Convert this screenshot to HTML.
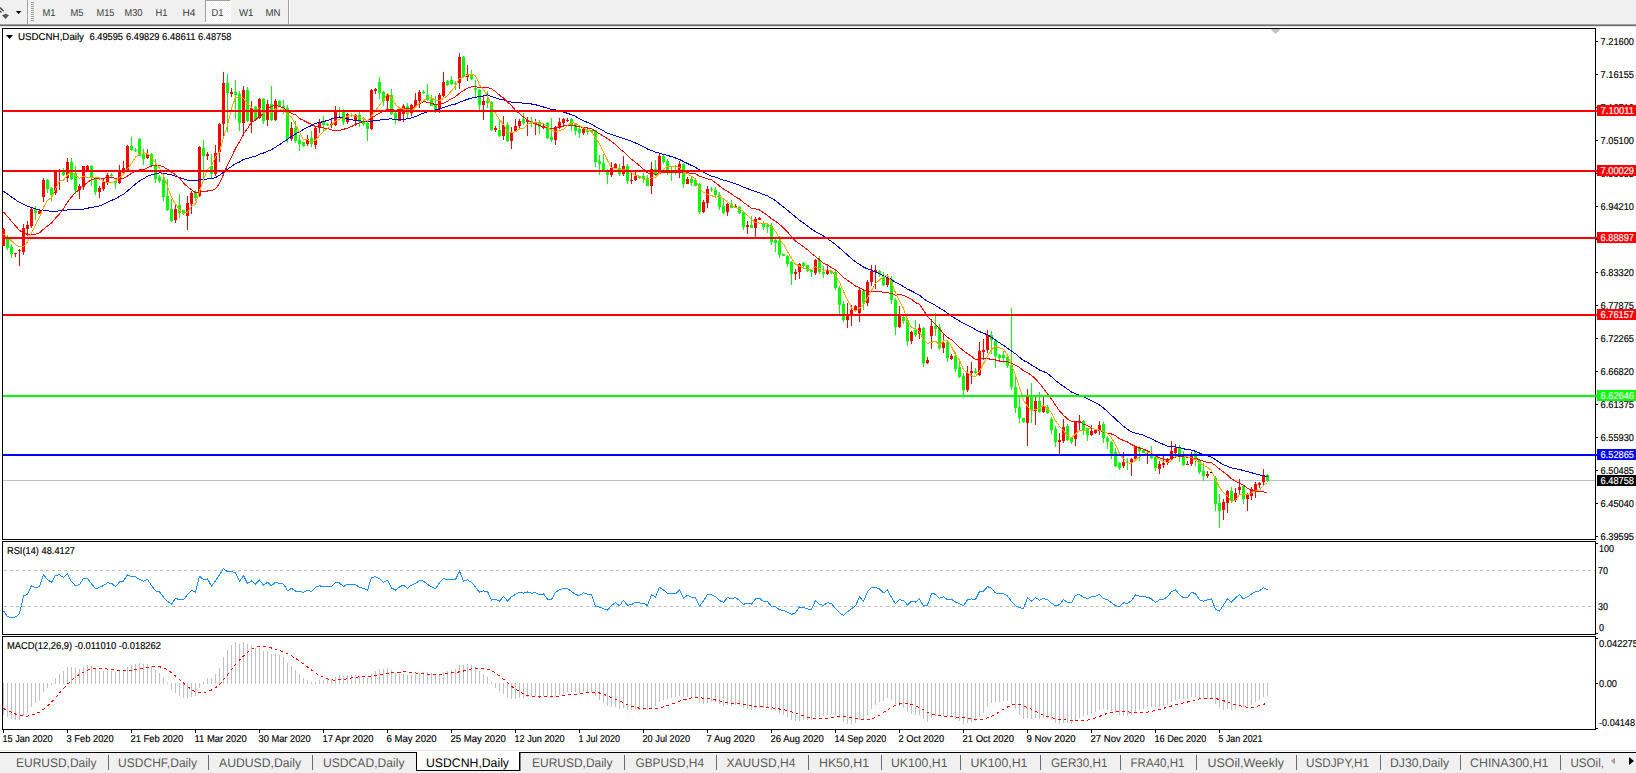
<!DOCTYPE html>
<html><head><meta charset="utf-8"><title>USDCNH,Daily</title>
<style>html,body{margin:0;padding:0;background:#fff;overflow:hidden}body{width:1636px;height:773px;font-family:"Liberation Sans",sans-serif}svg text{font-family:"Liberation Sans",sans-serif}</style>
</head><body><svg width="1636" height="773" viewBox="0 0 1636 773" font-family="Liberation Sans, sans-serif" text-rendering="geometricPrecision" style="display:block"><rect x="0" y="0" width="1636" height="773" fill="#ffffff"/>
<rect x="0" y="0" width="1636" height="24" fill="#f0f0f0"/>
<rect x="0" y="24" width="1636" height="1" fill="#a0a0a0"/>
<rect x="0" y="25" width="1636" height="1" fill="#696969"/>
<rect x="0" y="26" width="1636" height="1" fill="#e3e3e3"/>
<path d="M0 7.6 L3.6 11 M0 11 L1.5 12.5" stroke="#4a4a4a" stroke-width="1.5" fill="none"/>
<path d="M2 15.2 L5.5 13.8 L9 15.2 L5.5 19 Z" fill="#555"/>
<path d="M15.8 11 L21.4 11 L18.6 14.1 Z" fill="#000"/>
<rect x="27" y="0" width="1" height="24" fill="#a0a0a0"/>
<rect x="28" y="0" width="1" height="24" fill="#ffffff"/>
<rect x="31" y="2" width="3" height="1" fill="#a0a0a0"/>
<rect x="31" y="4" width="3" height="1" fill="#a0a0a0"/>
<rect x="31" y="6" width="3" height="1" fill="#a0a0a0"/>
<rect x="31" y="8" width="3" height="1" fill="#a0a0a0"/>
<rect x="31" y="10" width="3" height="1" fill="#a0a0a0"/>
<rect x="31" y="12" width="3" height="1" fill="#a0a0a0"/>
<rect x="31" y="14" width="3" height="1" fill="#a0a0a0"/>
<rect x="31" y="16" width="3" height="1" fill="#a0a0a0"/>
<rect x="31" y="18" width="3" height="1" fill="#a0a0a0"/>
<rect x="31" y="20" width="3" height="1" fill="#a0a0a0"/>
<defs><pattern id="chk" width="2" height="2" patternUnits="userSpaceOnUse"><rect width="2" height="2" fill="#f0f0f0"/><rect width="1" height="1" fill="#fff"/><rect x="1" y="1" width="1" height="1" fill="#fff"/></pattern></defs>
<rect x="206" y="1" width="24" height="21" fill="url(#chk)" shape-rendering="crispEdges"/>
<rect x="205" y="0" width="25" height="1" fill="#a0a0a0"/>
<rect x="205" y="0" width="1" height="22" fill="#a0a0a0"/>
<rect x="230" y="1" width="1" height="22" fill="#ffffff"/>
<rect x="205" y="22" width="26" height="1" fill="#ffffff"/>
<rect x="288" y="0" width="1" height="24" fill="#a0a0a0"/>
<rect x="289" y="0" width="1" height="24" fill="#ffffff"/>
<text x="42.5" y="16" font-size="10" fill="#383838" text-anchor="start" textLength="13" lengthAdjust="spacingAndGlyphs" >M1</text>
<text x="70.5" y="16" font-size="10" fill="#383838" text-anchor="start" textLength="13" lengthAdjust="spacingAndGlyphs" >M5</text>
<text x="96.5" y="16" font-size="10" fill="#383838" text-anchor="start" textLength="18" lengthAdjust="spacingAndGlyphs" >M15</text>
<text x="124.5" y="16" font-size="10" fill="#383838" text-anchor="start" textLength="18" lengthAdjust="spacingAndGlyphs" >M30</text>
<text x="155.5" y="16" font-size="10" fill="#383838" text-anchor="start" textLength="12" lengthAdjust="spacingAndGlyphs" >H1</text>
<text x="182.5" y="16" font-size="10" fill="#383838" text-anchor="start" textLength="13" lengthAdjust="spacingAndGlyphs" >H4</text>
<text x="211.5" y="16" font-size="10" fill="#383838" text-anchor="start" textLength="12" lengthAdjust="spacingAndGlyphs" >D1</text>
<text x="239" y="16" font-size="10" fill="#383838" text-anchor="start" textLength="14.5" lengthAdjust="spacingAndGlyphs" >W1</text>
<text x="265.5" y="16" font-size="10" fill="#383838" text-anchor="start" textLength="15" lengthAdjust="spacingAndGlyphs" >MN</text>
<rect x="2" y="28" width="1594" height="1" fill="#000"/>
<rect x="2" y="539" width="1594" height="1" fill="#000"/>
<rect x="2" y="28" width="1" height="512" fill="#000"/>
<rect x="1595" y="28" width="1" height="512" fill="#000"/>
<rect x="2" y="541" width="1594" height="1" fill="#000"/>
<rect x="2" y="634" width="1594" height="1" fill="#000"/>
<rect x="2" y="541" width="1" height="94" fill="#000"/>
<rect x="1595" y="541" width="1" height="94" fill="#000"/>
<rect x="2" y="636" width="1594" height="1" fill="#000"/>
<rect x="2" y="729" width="1594" height="1" fill="#000"/>
<rect x="2" y="636" width="1" height="94" fill="#000"/>
<rect x="1595" y="636" width="1" height="94" fill="#000"/>
<path d="M6 35 L13 35 L9.5 39 Z" fill="#000"/>
<text x="18" y="40" font-size="10" fill="#000" stroke="#000" stroke-width="0.15" text-anchor="start" textLength="66" lengthAdjust="spacingAndGlyphs" >USDCNH,Daily</text>
<text x="89.5" y="40" font-size="10" fill="#000" stroke="#000" stroke-width="0.15" text-anchor="start" textLength="33.5" lengthAdjust="spacingAndGlyphs" >6.49595</text>
<text x="126" y="40" font-size="10" fill="#000" stroke="#000" stroke-width="0.15" text-anchor="start" textLength="33.5" lengthAdjust="spacingAndGlyphs" >6.49829</text>
<text x="162" y="40" font-size="10" fill="#000" stroke="#000" stroke-width="0.15" text-anchor="start" textLength="33.5" lengthAdjust="spacingAndGlyphs" >6.48611</text>
<text x="198" y="40" font-size="10" fill="#000" stroke="#000" stroke-width="0.15" text-anchor="start" textLength="33.5" lengthAdjust="spacingAndGlyphs" >6.48758</text>
<path d="M1270.5 29 L1280.5 29 L1275.5 34 Z" fill="#c0c0c0"/>
<rect x="1596" y="41" width="2" height="1" fill="#000"/>
<text x="1600.5" y="45" font-size="10" fill="#000" stroke="#000" stroke-width="0.15" text-anchor="start" textLength="33.5" lengthAdjust="spacingAndGlyphs" >7.21600</text>
<rect x="1596" y="74" width="2" height="1" fill="#000"/>
<text x="1600.5" y="78" font-size="10" fill="#000" stroke="#000" stroke-width="0.15" text-anchor="start" textLength="33.5" lengthAdjust="spacingAndGlyphs" >7.16155</text>
<rect x="1596" y="107" width="2" height="1" fill="#000"/>
<text x="1600.5" y="111" font-size="10" fill="#000" stroke="#000" stroke-width="0.15" text-anchor="start" textLength="33.5" lengthAdjust="spacingAndGlyphs" >7.10710</text>
<rect x="1596" y="140" width="2" height="1" fill="#000"/>
<text x="1600.5" y="144" font-size="10" fill="#000" stroke="#000" stroke-width="0.15" text-anchor="start" textLength="33.5" lengthAdjust="spacingAndGlyphs" >7.05100</text>
<rect x="1596" y="173" width="2" height="1" fill="#000"/>
<text x="1600.5" y="177" font-size="10" fill="#000" stroke="#000" stroke-width="0.15" text-anchor="start" textLength="33.5" lengthAdjust="spacingAndGlyphs" >6.99655</text>
<rect x="1596" y="206" width="2" height="1" fill="#000"/>
<text x="1600.5" y="210" font-size="10" fill="#000" stroke="#000" stroke-width="0.15" text-anchor="start" textLength="33.5" lengthAdjust="spacingAndGlyphs" >6.94210</text>
<rect x="1596" y="239" width="2" height="1" fill="#000"/>
<text x="1600.5" y="243" font-size="10" fill="#000" stroke="#000" stroke-width="0.15" text-anchor="start" textLength="33.5" lengthAdjust="spacingAndGlyphs" >6.88765</text>
<rect x="1596" y="272" width="2" height="1" fill="#000"/>
<text x="1600.5" y="276" font-size="10" fill="#000" stroke="#000" stroke-width="0.15" text-anchor="start" textLength="33.5" lengthAdjust="spacingAndGlyphs" >6.83320</text>
<rect x="1596" y="305" width="2" height="1" fill="#000"/>
<text x="1600.5" y="309" font-size="10" fill="#000" stroke="#000" stroke-width="0.15" text-anchor="start" textLength="33.5" lengthAdjust="spacingAndGlyphs" >6.77875</text>
<rect x="1596" y="338" width="2" height="1" fill="#000"/>
<text x="1600.5" y="342" font-size="10" fill="#000" stroke="#000" stroke-width="0.15" text-anchor="start" textLength="33.5" lengthAdjust="spacingAndGlyphs" >6.72265</text>
<rect x="1596" y="371" width="2" height="1" fill="#000"/>
<text x="1600.5" y="375" font-size="10" fill="#000" stroke="#000" stroke-width="0.15" text-anchor="start" textLength="33.5" lengthAdjust="spacingAndGlyphs" >6.66820</text>
<rect x="1596" y="404" width="2" height="1" fill="#000"/>
<text x="1600.5" y="408" font-size="10" fill="#000" stroke="#000" stroke-width="0.15" text-anchor="start" textLength="33.5" lengthAdjust="spacingAndGlyphs" >6.61375</text>
<rect x="1596" y="437" width="2" height="1" fill="#000"/>
<text x="1600.5" y="441" font-size="10" fill="#000" stroke="#000" stroke-width="0.15" text-anchor="start" textLength="33.5" lengthAdjust="spacingAndGlyphs" >6.55930</text>
<rect x="1596" y="470" width="2" height="1" fill="#000"/>
<text x="1600.5" y="474" font-size="10" fill="#000" stroke="#000" stroke-width="0.15" text-anchor="start" textLength="33.5" lengthAdjust="spacingAndGlyphs" >6.50485</text>
<rect x="1596" y="503" width="2" height="1" fill="#000"/>
<text x="1600.5" y="507" font-size="10" fill="#000" stroke="#000" stroke-width="0.15" text-anchor="start" textLength="33.5" lengthAdjust="spacingAndGlyphs" >6.45040</text>
<rect x="1596" y="536" width="2" height="1" fill="#000"/>
<text x="1600.5" y="540" font-size="10" fill="#000" stroke="#000" stroke-width="0.15" text-anchor="start" textLength="33.5" lengthAdjust="spacingAndGlyphs" >6.39595</text>
<rect x="3" y="480" width="1592" height="1" fill="#c0c0c0"/>
<g shape-rendering="crispEdges">
<rect x="3" y="228" width="1" height="18" fill="#ff0000"/>
<rect x="2" y="229" width="3" height="17" fill="#ff0000"/>
<rect x="7" y="235" width="1" height="15" fill="#00ff00"/>
<rect x="6" y="239" width="3" height="9" fill="#00ff00"/>
<rect x="11" y="244" width="1" height="14" fill="#00ff00"/>
<rect x="10" y="247" width="3" height="7" fill="#00ff00"/>
<rect x="15" y="253" width="1" height="4" fill="#ff0000"/>
<rect x="14" y="253" width="3" height="1" fill="#ff0000"/>
<rect x="19" y="249" width="1" height="17" fill="#ff0000"/>
<rect x="18" y="250" width="3" height="1" fill="#ff0000"/>
<rect x="23" y="224" width="1" height="31" fill="#ff0000"/>
<rect x="22" y="228" width="3" height="24" fill="#ff0000"/>
<rect x="27" y="221" width="1" height="15" fill="#ff0000"/>
<rect x="26" y="225" width="3" height="4" fill="#ff0000"/>
<rect x="31" y="208" width="1" height="20" fill="#ff0000"/>
<rect x="30" y="209" width="3" height="17" fill="#ff0000"/>
<rect x="35" y="206" width="1" height="14" fill="#00ff00"/>
<rect x="34" y="209" width="3" height="4" fill="#00ff00"/>
<rect x="39" y="210" width="1" height="4" fill="#ff0000"/>
<rect x="38" y="211" width="3" height="3" fill="#ff0000"/>
<rect x="43" y="178" width="1" height="24" fill="#ff0000"/>
<rect x="42" y="180" width="3" height="17" fill="#ff0000"/>
<rect x="47" y="179" width="1" height="14" fill="#00ff00"/>
<rect x="46" y="180" width="3" height="9" fill="#00ff00"/>
<rect x="51" y="187" width="1" height="14" fill="#00ff00"/>
<rect x="50" y="188" width="3" height="7" fill="#00ff00"/>
<rect x="55" y="170" width="1" height="25" fill="#ff0000"/>
<rect x="54" y="172" width="3" height="21" fill="#ff0000"/>
<rect x="59" y="169" width="1" height="21" fill="#ff0000"/>
<rect x="58" y="170" width="3" height="2" fill="#ff0000"/>
<rect x="63" y="168" width="1" height="8" fill="#00ff00"/>
<rect x="62" y="172" width="3" height="3" fill="#00ff00"/>
<rect x="67" y="158" width="1" height="24" fill="#ff0000"/>
<rect x="66" y="162" width="3" height="16" fill="#ff0000"/>
<rect x="71" y="158" width="1" height="22" fill="#00ff00"/>
<rect x="70" y="162" width="3" height="17" fill="#00ff00"/>
<rect x="75" y="166" width="1" height="28" fill="#00ff00"/>
<rect x="74" y="173" width="3" height="17" fill="#00ff00"/>
<rect x="79" y="184" width="1" height="15" fill="#ff0000"/>
<rect x="78" y="186" width="3" height="4" fill="#ff0000"/>
<rect x="83" y="166" width="1" height="24" fill="#ff0000"/>
<rect x="82" y="166" width="3" height="21" fill="#ff0000"/>
<rect x="87" y="165" width="1" height="7" fill="#ff0000"/>
<rect x="86" y="166" width="3" height="5" fill="#ff0000"/>
<rect x="91" y="165" width="1" height="21" fill="#00ff00"/>
<rect x="90" y="166" width="3" height="12" fill="#00ff00"/>
<rect x="95" y="177" width="1" height="18" fill="#00ff00"/>
<rect x="94" y="179" width="3" height="13" fill="#00ff00"/>
<rect x="99" y="186" width="1" height="12" fill="#ff0000"/>
<rect x="98" y="188" width="3" height="4" fill="#ff0000"/>
<rect x="103" y="178" width="1" height="13" fill="#ff0000"/>
<rect x="102" y="182" width="3" height="7" fill="#ff0000"/>
<rect x="107" y="173" width="1" height="12" fill="#ff0000"/>
<rect x="106" y="175" width="3" height="8" fill="#ff0000"/>
<rect x="111" y="173" width="1" height="4" fill="#00ff00"/>
<rect x="110" y="175" width="3" height="1" fill="#00ff00"/>
<rect x="115" y="180" width="1" height="9" fill="#00ff00"/>
<rect x="114" y="181" width="3" height="2" fill="#00ff00"/>
<rect x="119" y="165" width="1" height="19" fill="#ff0000"/>
<rect x="118" y="170" width="3" height="13" fill="#ff0000"/>
<rect x="123" y="161" width="1" height="14" fill="#ff0000"/>
<rect x="122" y="168" width="3" height="5" fill="#ff0000"/>
<rect x="127" y="145" width="1" height="26" fill="#ff0000"/>
<rect x="126" y="146" width="3" height="24" fill="#ff0000"/>
<rect x="131" y="137" width="1" height="14" fill="#00ff00"/>
<rect x="130" y="146" width="3" height="4" fill="#00ff00"/>
<rect x="135" y="148" width="1" height="4" fill="#00ff00"/>
<rect x="134" y="150" width="3" height="1" fill="#00ff00"/>
<rect x="139" y="138" width="1" height="18" fill="#00ff00"/>
<rect x="138" y="139" width="3" height="17" fill="#00ff00"/>
<rect x="143" y="149" width="1" height="16" fill="#00ff00"/>
<rect x="142" y="154" width="3" height="5" fill="#00ff00"/>
<rect x="147" y="149" width="1" height="10" fill="#ff0000"/>
<rect x="146" y="154" width="3" height="4" fill="#ff0000"/>
<rect x="151" y="153" width="1" height="14" fill="#00ff00"/>
<rect x="150" y="154" width="3" height="12" fill="#00ff00"/>
<rect x="155" y="159" width="1" height="24" fill="#00ff00"/>
<rect x="154" y="166" width="3" height="13" fill="#00ff00"/>
<rect x="159" y="175" width="1" height="8" fill="#00ff00"/>
<rect x="158" y="177" width="3" height="4" fill="#00ff00"/>
<rect x="163" y="177" width="1" height="24" fill="#00ff00"/>
<rect x="162" y="180" width="3" height="17" fill="#00ff00"/>
<rect x="167" y="179" width="1" height="32" fill="#00ff00"/>
<rect x="166" y="196" width="3" height="14" fill="#00ff00"/>
<rect x="171" y="199" width="1" height="23" fill="#00ff00"/>
<rect x="170" y="209" width="3" height="12" fill="#00ff00"/>
<rect x="175" y="204" width="1" height="19" fill="#ff0000"/>
<rect x="174" y="209" width="3" height="11" fill="#ff0000"/>
<rect x="179" y="194" width="1" height="24" fill="#00ff00"/>
<rect x="178" y="205" width="3" height="8" fill="#00ff00"/>
<rect x="183" y="210" width="1" height="5" fill="#00ff00"/>
<rect x="182" y="210" width="3" height="4" fill="#00ff00"/>
<rect x="187" y="196" width="1" height="34" fill="#ff0000"/>
<rect x="186" y="203" width="3" height="13" fill="#ff0000"/>
<rect x="191" y="191" width="1" height="23" fill="#ff0000"/>
<rect x="190" y="193" width="3" height="11" fill="#ff0000"/>
<rect x="195" y="190" width="1" height="11" fill="#00ff00"/>
<rect x="194" y="193" width="3" height="5" fill="#00ff00"/>
<rect x="199" y="146" width="1" height="51" fill="#ff0000"/>
<rect x="198" y="147" width="3" height="49" fill="#ff0000"/>
<rect x="203" y="140" width="1" height="38" fill="#00ff00"/>
<rect x="202" y="148" width="3" height="8" fill="#00ff00"/>
<rect x="207" y="152" width="1" height="8" fill="#ff0000"/>
<rect x="206" y="154" width="3" height="2" fill="#ff0000"/>
<rect x="211" y="154" width="1" height="24" fill="#00ff00"/>
<rect x="210" y="166" width="3" height="8" fill="#00ff00"/>
<rect x="215" y="145" width="1" height="31" fill="#ff0000"/>
<rect x="214" y="153" width="3" height="21" fill="#ff0000"/>
<rect x="219" y="123" width="1" height="39" fill="#ff0000"/>
<rect x="218" y="124" width="3" height="28" fill="#ff0000"/>
<rect x="223" y="72" width="1" height="64" fill="#ff0000"/>
<rect x="222" y="83" width="3" height="41" fill="#ff0000"/>
<rect x="227" y="74" width="1" height="58" fill="#00ff00"/>
<rect x="226" y="83" width="3" height="10" fill="#00ff00"/>
<rect x="231" y="88" width="1" height="9" fill="#ff0000"/>
<rect x="230" y="92" width="3" height="2" fill="#ff0000"/>
<rect x="235" y="80" width="1" height="39" fill="#00ff00"/>
<rect x="234" y="92" width="3" height="3" fill="#00ff00"/>
<rect x="239" y="91" width="1" height="40" fill="#00ff00"/>
<rect x="238" y="94" width="3" height="29" fill="#00ff00"/>
<rect x="243" y="86" width="1" height="50" fill="#ff0000"/>
<rect x="242" y="90" width="3" height="33" fill="#ff0000"/>
<rect x="247" y="87" width="1" height="35" fill="#00ff00"/>
<rect x="246" y="90" width="3" height="31" fill="#00ff00"/>
<rect x="251" y="101" width="1" height="32" fill="#ff0000"/>
<rect x="250" y="108" width="3" height="14" fill="#ff0000"/>
<rect x="255" y="106" width="1" height="15" fill="#00ff00"/>
<rect x="254" y="107" width="3" height="13" fill="#00ff00"/>
<rect x="259" y="98" width="1" height="21" fill="#ff0000"/>
<rect x="258" y="99" width="3" height="19" fill="#ff0000"/>
<rect x="263" y="98" width="1" height="26" fill="#00ff00"/>
<rect x="262" y="99" width="3" height="22" fill="#00ff00"/>
<rect x="267" y="100" width="1" height="26" fill="#ff0000"/>
<rect x="266" y="104" width="3" height="16" fill="#ff0000"/>
<rect x="271" y="86" width="1" height="35" fill="#00ff00"/>
<rect x="270" y="104" width="3" height="16" fill="#00ff00"/>
<rect x="275" y="99" width="1" height="22" fill="#ff0000"/>
<rect x="274" y="101" width="3" height="19" fill="#ff0000"/>
<rect x="279" y="100" width="1" height="7" fill="#00ff00"/>
<rect x="278" y="101" width="3" height="5" fill="#00ff00"/>
<rect x="283" y="100" width="1" height="14" fill="#00ff00"/>
<rect x="282" y="106" width="3" height="3" fill="#00ff00"/>
<rect x="287" y="105" width="1" height="38" fill="#00ff00"/>
<rect x="286" y="108" width="3" height="31" fill="#00ff00"/>
<rect x="291" y="122" width="1" height="19" fill="#ff0000"/>
<rect x="290" y="128" width="3" height="11" fill="#ff0000"/>
<rect x="295" y="121" width="1" height="22" fill="#00ff00"/>
<rect x="294" y="128" width="3" height="13" fill="#00ff00"/>
<rect x="299" y="135" width="1" height="16" fill="#00ff00"/>
<rect x="298" y="140" width="3" height="4" fill="#00ff00"/>
<rect x="303" y="142" width="1" height="5" fill="#00ff00"/>
<rect x="302" y="142" width="3" height="4" fill="#00ff00"/>
<rect x="307" y="135" width="1" height="11" fill="#ff0000"/>
<rect x="306" y="139" width="3" height="5" fill="#ff0000"/>
<rect x="311" y="131" width="1" height="16" fill="#00ff00"/>
<rect x="310" y="138" width="3" height="6" fill="#00ff00"/>
<rect x="315" y="127" width="1" height="22" fill="#ff0000"/>
<rect x="314" y="128" width="3" height="17" fill="#ff0000"/>
<rect x="319" y="119" width="1" height="14" fill="#ff0000"/>
<rect x="318" y="122" width="3" height="6" fill="#ff0000"/>
<rect x="323" y="116" width="1" height="15" fill="#00ff00"/>
<rect x="322" y="122" width="3" height="3" fill="#00ff00"/>
<rect x="327" y="123" width="1" height="3" fill="#00ff00"/>
<rect x="326" y="124" width="3" height="1" fill="#00ff00"/>
<rect x="331" y="119" width="1" height="9" fill="#ff0000"/>
<rect x="330" y="124" width="3" height="1" fill="#ff0000"/>
<rect x="335" y="106" width="1" height="20" fill="#ff0000"/>
<rect x="334" y="110" width="3" height="15" fill="#ff0000"/>
<rect x="339" y="107" width="1" height="9" fill="#00ff00"/>
<rect x="338" y="110" width="3" height="2" fill="#00ff00"/>
<rect x="343" y="109" width="1" height="16" fill="#00ff00"/>
<rect x="342" y="112" width="3" height="10" fill="#00ff00"/>
<rect x="347" y="113" width="1" height="11" fill="#ff0000"/>
<rect x="346" y="114" width="3" height="8" fill="#ff0000"/>
<rect x="351" y="113" width="1" height="4" fill="#00ff00"/>
<rect x="350" y="115" width="3" height="1" fill="#00ff00"/>
<rect x="355" y="114" width="1" height="12" fill="#ff0000"/>
<rect x="354" y="115" width="3" height="6" fill="#ff0000"/>
<rect x="359" y="112" width="1" height="15" fill="#00ff00"/>
<rect x="358" y="115" width="3" height="7" fill="#00ff00"/>
<rect x="363" y="117" width="1" height="9" fill="#00ff00"/>
<rect x="362" y="121" width="3" height="3" fill="#00ff00"/>
<rect x="367" y="122" width="1" height="19" fill="#00ff00"/>
<rect x="366" y="123" width="3" height="6" fill="#00ff00"/>
<rect x="371" y="89" width="1" height="41" fill="#ff0000"/>
<rect x="370" y="90" width="3" height="39" fill="#ff0000"/>
<rect x="375" y="88" width="1" height="6" fill="#ff0000"/>
<rect x="374" y="89" width="3" height="2" fill="#ff0000"/>
<rect x="379" y="77" width="1" height="22" fill="#00ff00"/>
<rect x="378" y="82" width="3" height="11" fill="#00ff00"/>
<rect x="383" y="91" width="1" height="15" fill="#00ff00"/>
<rect x="382" y="92" width="3" height="9" fill="#00ff00"/>
<rect x="387" y="94" width="1" height="16" fill="#ff0000"/>
<rect x="386" y="95" width="3" height="6" fill="#ff0000"/>
<rect x="391" y="89" width="1" height="26" fill="#00ff00"/>
<rect x="390" y="95" width="3" height="19" fill="#00ff00"/>
<rect x="395" y="112" width="1" height="12" fill="#00ff00"/>
<rect x="394" y="113" width="3" height="7" fill="#00ff00"/>
<rect x="399" y="110" width="1" height="11" fill="#ff0000"/>
<rect x="398" y="111" width="3" height="10" fill="#ff0000"/>
<rect x="403" y="104" width="1" height="18" fill="#ff0000"/>
<rect x="402" y="106" width="3" height="8" fill="#ff0000"/>
<rect x="407" y="103" width="1" height="15" fill="#00ff00"/>
<rect x="406" y="106" width="3" height="8" fill="#00ff00"/>
<rect x="411" y="104" width="1" height="12" fill="#ff0000"/>
<rect x="410" y="105" width="3" height="8" fill="#ff0000"/>
<rect x="415" y="93" width="1" height="15" fill="#ff0000"/>
<rect x="414" y="100" width="3" height="6" fill="#ff0000"/>
<rect x="419" y="90" width="1" height="18" fill="#ff0000"/>
<rect x="418" y="92" width="3" height="9" fill="#ff0000"/>
<rect x="423" y="90" width="1" height="4" fill="#00ff00"/>
<rect x="422" y="92" width="3" height="1" fill="#00ff00"/>
<rect x="427" y="84" width="1" height="17" fill="#00ff00"/>
<rect x="426" y="95" width="3" height="5" fill="#00ff00"/>
<rect x="431" y="95" width="1" height="11" fill="#00ff00"/>
<rect x="430" y="99" width="3" height="7" fill="#00ff00"/>
<rect x="435" y="96" width="1" height="17" fill="#00ff00"/>
<rect x="434" y="105" width="3" height="5" fill="#00ff00"/>
<rect x="439" y="93" width="1" height="20" fill="#ff0000"/>
<rect x="438" y="95" width="3" height="14" fill="#ff0000"/>
<rect x="443" y="72" width="1" height="25" fill="#ff0000"/>
<rect x="442" y="82" width="3" height="14" fill="#ff0000"/>
<rect x="447" y="80" width="1" height="6" fill="#00ff00"/>
<rect x="446" y="81" width="3" height="4" fill="#00ff00"/>
<rect x="451" y="76" width="1" height="9" fill="#00ff00"/>
<rect x="450" y="80" width="3" height="4" fill="#00ff00"/>
<rect x="455" y="81" width="1" height="9" fill="#00ff00"/>
<rect x="454" y="83" width="3" height="1" fill="#00ff00"/>
<rect x="459" y="53" width="1" height="36" fill="#ff0000"/>
<rect x="458" y="57" width="3" height="26" fill="#ff0000"/>
<rect x="463" y="56" width="1" height="22" fill="#00ff00"/>
<rect x="462" y="57" width="3" height="20" fill="#00ff00"/>
<rect x="467" y="65" width="1" height="16" fill="#ff0000"/>
<rect x="466" y="74" width="3" height="3" fill="#ff0000"/>
<rect x="471" y="70" width="1" height="10" fill="#00ff00"/>
<rect x="470" y="74" width="3" height="5" fill="#00ff00"/>
<rect x="475" y="80" width="1" height="17" fill="#00ff00"/>
<rect x="474" y="88" width="3" height="2" fill="#00ff00"/>
<rect x="479" y="89" width="1" height="21" fill="#00ff00"/>
<rect x="478" y="90" width="3" height="15" fill="#00ff00"/>
<rect x="483" y="95" width="1" height="25" fill="#ff0000"/>
<rect x="482" y="101" width="3" height="4" fill="#ff0000"/>
<rect x="487" y="91" width="1" height="17" fill="#00ff00"/>
<rect x="486" y="101" width="3" height="2" fill="#00ff00"/>
<rect x="491" y="101" width="1" height="30" fill="#00ff00"/>
<rect x="490" y="102" width="3" height="28" fill="#00ff00"/>
<rect x="495" y="126" width="1" height="6" fill="#ff0000"/>
<rect x="494" y="128" width="3" height="2" fill="#ff0000"/>
<rect x="499" y="120" width="1" height="17" fill="#00ff00"/>
<rect x="498" y="130" width="3" height="6" fill="#00ff00"/>
<rect x="503" y="116" width="1" height="24" fill="#ff0000"/>
<rect x="502" y="125" width="3" height="11" fill="#ff0000"/>
<rect x="507" y="122" width="1" height="20" fill="#00ff00"/>
<rect x="506" y="125" width="3" height="16" fill="#00ff00"/>
<rect x="511" y="127" width="1" height="22" fill="#ff0000"/>
<rect x="510" y="132" width="3" height="9" fill="#ff0000"/>
<rect x="515" y="119" width="1" height="13" fill="#ff0000"/>
<rect x="514" y="126" width="3" height="5" fill="#ff0000"/>
<rect x="519" y="119" width="1" height="9" fill="#ff0000"/>
<rect x="518" y="121" width="3" height="5" fill="#ff0000"/>
<rect x="523" y="113" width="1" height="12" fill="#00ff00"/>
<rect x="522" y="119" width="3" height="4" fill="#00ff00"/>
<rect x="527" y="117" width="1" height="19" fill="#ff0000"/>
<rect x="526" y="120" width="3" height="2" fill="#ff0000"/>
<rect x="531" y="117" width="1" height="10" fill="#00ff00"/>
<rect x="530" y="121" width="3" height="2" fill="#00ff00"/>
<rect x="535" y="119" width="1" height="16" fill="#ff0000"/>
<rect x="534" y="122" width="3" height="2" fill="#ff0000"/>
<rect x="539" y="120" width="1" height="14" fill="#00ff00"/>
<rect x="538" y="122" width="3" height="5" fill="#00ff00"/>
<rect x="543" y="124" width="1" height="5" fill="#ff0000"/>
<rect x="542" y="126" width="3" height="2" fill="#ff0000"/>
<rect x="547" y="122" width="1" height="17" fill="#00ff00"/>
<rect x="546" y="123" width="3" height="15" fill="#00ff00"/>
<rect x="551" y="118" width="1" height="24" fill="#00ff00"/>
<rect x="550" y="137" width="3" height="3" fill="#00ff00"/>
<rect x="555" y="126" width="1" height="19" fill="#ff0000"/>
<rect x="554" y="127" width="3" height="13" fill="#ff0000"/>
<rect x="559" y="118" width="1" height="11" fill="#ff0000"/>
<rect x="558" y="122" width="3" height="6" fill="#ff0000"/>
<rect x="563" y="118" width="1" height="8" fill="#ff0000"/>
<rect x="562" y="119" width="3" height="4" fill="#ff0000"/>
<rect x="567" y="118" width="1" height="4" fill="#ff0000"/>
<rect x="566" y="120" width="3" height="1" fill="#ff0000"/>
<rect x="571" y="118" width="1" height="13" fill="#00ff00"/>
<rect x="570" y="119" width="3" height="6" fill="#00ff00"/>
<rect x="575" y="123" width="1" height="12" fill="#00ff00"/>
<rect x="574" y="123" width="3" height="8" fill="#00ff00"/>
<rect x="579" y="126" width="1" height="12" fill="#00ff00"/>
<rect x="578" y="129" width="3" height="4" fill="#00ff00"/>
<rect x="583" y="128" width="1" height="7" fill="#ff0000"/>
<rect x="582" y="129" width="3" height="4" fill="#ff0000"/>
<rect x="587" y="129" width="1" height="6" fill="#00ff00"/>
<rect x="586" y="130" width="3" height="2" fill="#00ff00"/>
<rect x="591" y="130" width="1" height="3" fill="#00ff00"/>
<rect x="590" y="130" width="3" height="2" fill="#00ff00"/>
<rect x="595" y="130" width="1" height="37" fill="#00ff00"/>
<rect x="594" y="130" width="3" height="32" fill="#00ff00"/>
<rect x="599" y="155" width="1" height="20" fill="#00ff00"/>
<rect x="598" y="161" width="3" height="3" fill="#00ff00"/>
<rect x="603" y="154" width="1" height="17" fill="#00ff00"/>
<rect x="602" y="163" width="3" height="7" fill="#00ff00"/>
<rect x="607" y="169" width="1" height="15" fill="#00ff00"/>
<rect x="606" y="172" width="3" height="3" fill="#00ff00"/>
<rect x="611" y="162" width="1" height="15" fill="#ff0000"/>
<rect x="610" y="168" width="3" height="7" fill="#ff0000"/>
<rect x="615" y="163" width="1" height="6" fill="#ff0000"/>
<rect x="614" y="164" width="3" height="4" fill="#ff0000"/>
<rect x="619" y="164" width="1" height="12" fill="#00ff00"/>
<rect x="618" y="168" width="3" height="6" fill="#00ff00"/>
<rect x="623" y="156" width="1" height="20" fill="#ff0000"/>
<rect x="622" y="166" width="3" height="8" fill="#ff0000"/>
<rect x="627" y="164" width="1" height="20" fill="#00ff00"/>
<rect x="626" y="166" width="3" height="15" fill="#00ff00"/>
<rect x="631" y="173" width="1" height="11" fill="#ff0000"/>
<rect x="630" y="180" width="3" height="1" fill="#ff0000"/>
<rect x="635" y="172" width="1" height="9" fill="#ff0000"/>
<rect x="634" y="176" width="3" height="4" fill="#ff0000"/>
<rect x="639" y="176" width="1" height="3" fill="#00ff00"/>
<rect x="638" y="176" width="3" height="2" fill="#00ff00"/>
<rect x="643" y="173" width="1" height="10" fill="#00ff00"/>
<rect x="642" y="176" width="3" height="3" fill="#00ff00"/>
<rect x="647" y="175" width="1" height="11" fill="#00ff00"/>
<rect x="646" y="178" width="3" height="8" fill="#00ff00"/>
<rect x="651" y="162" width="1" height="32" fill="#ff0000"/>
<rect x="650" y="169" width="3" height="17" fill="#ff0000"/>
<rect x="655" y="160" width="1" height="16" fill="#00ff00"/>
<rect x="654" y="169" width="3" height="6" fill="#00ff00"/>
<rect x="659" y="154" width="1" height="20" fill="#ff0000"/>
<rect x="658" y="156" width="3" height="17" fill="#ff0000"/>
<rect x="663" y="155" width="1" height="9" fill="#00ff00"/>
<rect x="662" y="156" width="3" height="6" fill="#00ff00"/>
<rect x="667" y="159" width="1" height="16" fill="#00ff00"/>
<rect x="666" y="161" width="3" height="9" fill="#00ff00"/>
<rect x="671" y="166" width="1" height="15" fill="#00ff00"/>
<rect x="670" y="170" width="3" height="1" fill="#00ff00"/>
<rect x="675" y="167" width="1" height="8" fill="#00ff00"/>
<rect x="674" y="170" width="3" height="2" fill="#00ff00"/>
<rect x="679" y="161" width="1" height="17" fill="#ff0000"/>
<rect x="678" y="164" width="3" height="8" fill="#ff0000"/>
<rect x="683" y="163" width="1" height="25" fill="#00ff00"/>
<rect x="682" y="164" width="3" height="20" fill="#00ff00"/>
<rect x="687" y="177" width="1" height="7" fill="#ff0000"/>
<rect x="686" y="179" width="3" height="5" fill="#ff0000"/>
<rect x="691" y="177" width="1" height="9" fill="#00ff00"/>
<rect x="690" y="179" width="3" height="4" fill="#00ff00"/>
<rect x="695" y="179" width="1" height="7" fill="#00ff00"/>
<rect x="694" y="180" width="3" height="6" fill="#00ff00"/>
<rect x="699" y="183" width="1" height="31" fill="#00ff00"/>
<rect x="698" y="184" width="3" height="28" fill="#00ff00"/>
<rect x="703" y="200" width="1" height="13" fill="#ff0000"/>
<rect x="702" y="202" width="3" height="10" fill="#ff0000"/>
<rect x="707" y="186" width="1" height="22" fill="#ff0000"/>
<rect x="706" y="189" width="3" height="14" fill="#ff0000"/>
<rect x="711" y="187" width="1" height="5" fill="#00ff00"/>
<rect x="710" y="189" width="3" height="1" fill="#00ff00"/>
<rect x="715" y="187" width="1" height="11" fill="#00ff00"/>
<rect x="714" y="190" width="3" height="5" fill="#00ff00"/>
<rect x="719" y="192" width="1" height="18" fill="#00ff00"/>
<rect x="718" y="195" width="3" height="12" fill="#00ff00"/>
<rect x="723" y="198" width="1" height="16" fill="#00ff00"/>
<rect x="722" y="206" width="3" height="7" fill="#00ff00"/>
<rect x="727" y="203" width="1" height="13" fill="#ff0000"/>
<rect x="726" y="204" width="3" height="8" fill="#ff0000"/>
<rect x="731" y="200" width="1" height="8" fill="#00ff00"/>
<rect x="730" y="204" width="3" height="4" fill="#00ff00"/>
<rect x="735" y="204" width="1" height="4" fill="#ff0000"/>
<rect x="734" y="206" width="3" height="2" fill="#ff0000"/>
<rect x="739" y="206" width="1" height="8" fill="#00ff00"/>
<rect x="738" y="207" width="3" height="6" fill="#00ff00"/>
<rect x="743" y="211" width="1" height="19" fill="#00ff00"/>
<rect x="742" y="212" width="3" height="15" fill="#00ff00"/>
<rect x="747" y="221" width="1" height="13" fill="#ff0000"/>
<rect x="746" y="225" width="3" height="2" fill="#ff0000"/>
<rect x="751" y="216" width="1" height="12" fill="#00ff00"/>
<rect x="750" y="225" width="3" height="3" fill="#00ff00"/>
<rect x="755" y="217" width="1" height="20" fill="#ff0000"/>
<rect x="754" y="219" width="3" height="9" fill="#ff0000"/>
<rect x="759" y="217" width="1" height="3" fill="#ff0000"/>
<rect x="758" y="218" width="3" height="2" fill="#ff0000"/>
<rect x="763" y="221" width="1" height="9" fill="#00ff00"/>
<rect x="762" y="223" width="3" height="4" fill="#00ff00"/>
<rect x="767" y="223" width="1" height="10" fill="#00ff00"/>
<rect x="766" y="225" width="3" height="2" fill="#00ff00"/>
<rect x="771" y="223" width="1" height="22" fill="#00ff00"/>
<rect x="770" y="226" width="3" height="16" fill="#00ff00"/>
<rect x="775" y="239" width="1" height="13" fill="#00ff00"/>
<rect x="774" y="240" width="3" height="3" fill="#00ff00"/>
<rect x="779" y="236" width="1" height="22" fill="#00ff00"/>
<rect x="778" y="241" width="3" height="14" fill="#00ff00"/>
<rect x="783" y="254" width="1" height="2" fill="#00ff00"/>
<rect x="782" y="254" width="3" height="2" fill="#00ff00"/>
<rect x="787" y="255" width="1" height="12" fill="#00ff00"/>
<rect x="786" y="256" width="3" height="8" fill="#00ff00"/>
<rect x="791" y="261" width="1" height="24" fill="#00ff00"/>
<rect x="790" y="262" width="3" height="12" fill="#00ff00"/>
<rect x="795" y="269" width="1" height="11" fill="#ff0000"/>
<rect x="794" y="272" width="3" height="2" fill="#ff0000"/>
<rect x="799" y="263" width="1" height="16" fill="#ff0000"/>
<rect x="798" y="264" width="3" height="8" fill="#ff0000"/>
<rect x="803" y="262" width="1" height="6" fill="#00ff00"/>
<rect x="802" y="263" width="3" height="3" fill="#00ff00"/>
<rect x="807" y="265" width="1" height="7" fill="#00ff00"/>
<rect x="806" y="265" width="3" height="6" fill="#00ff00"/>
<rect x="811" y="269" width="1" height="8" fill="#00ff00"/>
<rect x="810" y="270" width="3" height="2" fill="#00ff00"/>
<rect x="815" y="259" width="1" height="16" fill="#ff0000"/>
<rect x="814" y="260" width="3" height="13" fill="#ff0000"/>
<rect x="819" y="256" width="1" height="18" fill="#00ff00"/>
<rect x="818" y="260" width="3" height="12" fill="#00ff00"/>
<rect x="823" y="266" width="1" height="12" fill="#00ff00"/>
<rect x="822" y="272" width="3" height="2" fill="#00ff00"/>
<rect x="827" y="264" width="1" height="11" fill="#ff0000"/>
<rect x="826" y="271" width="3" height="3" fill="#ff0000"/>
<rect x="831" y="270" width="1" height="4" fill="#00ff00"/>
<rect x="830" y="271" width="3" height="2" fill="#00ff00"/>
<rect x="835" y="271" width="1" height="19" fill="#00ff00"/>
<rect x="834" y="272" width="3" height="16" fill="#00ff00"/>
<rect x="839" y="286" width="1" height="28" fill="#00ff00"/>
<rect x="838" y="288" width="3" height="17" fill="#00ff00"/>
<rect x="843" y="301" width="1" height="21" fill="#00ff00"/>
<rect x="842" y="304" width="3" height="16" fill="#00ff00"/>
<rect x="847" y="303" width="1" height="25" fill="#ff0000"/>
<rect x="846" y="315" width="3" height="5" fill="#ff0000"/>
<rect x="851" y="305" width="1" height="21" fill="#ff0000"/>
<rect x="850" y="310" width="3" height="5" fill="#ff0000"/>
<rect x="855" y="305" width="1" height="6" fill="#ff0000"/>
<rect x="854" y="306" width="3" height="4" fill="#ff0000"/>
<rect x="859" y="288" width="1" height="34" fill="#ff0000"/>
<rect x="858" y="290" width="3" height="23" fill="#ff0000"/>
<rect x="863" y="289" width="1" height="21" fill="#00ff00"/>
<rect x="862" y="291" width="3" height="12" fill="#00ff00"/>
<rect x="867" y="280" width="1" height="26" fill="#ff0000"/>
<rect x="866" y="282" width="3" height="21" fill="#ff0000"/>
<rect x="871" y="265" width="1" height="21" fill="#ff0000"/>
<rect x="870" y="271" width="3" height="11" fill="#ff0000"/>
<rect x="875" y="265" width="1" height="24" fill="#ff0000"/>
<rect x="874" y="270" width="3" height="2" fill="#ff0000"/>
<rect x="879" y="270" width="1" height="7" fill="#00ff00"/>
<rect x="878" y="271" width="3" height="3" fill="#00ff00"/>
<rect x="883" y="272" width="1" height="14" fill="#00ff00"/>
<rect x="882" y="276" width="3" height="9" fill="#00ff00"/>
<rect x="887" y="274" width="1" height="13" fill="#ff0000"/>
<rect x="886" y="278" width="3" height="7" fill="#ff0000"/>
<rect x="891" y="276" width="1" height="28" fill="#00ff00"/>
<rect x="890" y="279" width="3" height="21" fill="#00ff00"/>
<rect x="895" y="298" width="1" height="37" fill="#00ff00"/>
<rect x="894" y="300" width="3" height="27" fill="#00ff00"/>
<rect x="899" y="306" width="1" height="22" fill="#ff0000"/>
<rect x="898" y="316" width="3" height="11" fill="#ff0000"/>
<rect x="903" y="316" width="1" height="8" fill="#00ff00"/>
<rect x="902" y="317" width="3" height="4" fill="#00ff00"/>
<rect x="907" y="318" width="1" height="28" fill="#00ff00"/>
<rect x="906" y="320" width="3" height="21" fill="#00ff00"/>
<rect x="911" y="331" width="1" height="13" fill="#ff0000"/>
<rect x="910" y="332" width="3" height="9" fill="#ff0000"/>
<rect x="915" y="320" width="1" height="17" fill="#00ff00"/>
<rect x="914" y="330" width="3" height="5" fill="#00ff00"/>
<rect x="919" y="324" width="1" height="15" fill="#ff0000"/>
<rect x="918" y="328" width="3" height="6" fill="#ff0000"/>
<rect x="923" y="327" width="1" height="40" fill="#00ff00"/>
<rect x="922" y="328" width="3" height="35" fill="#00ff00"/>
<rect x="927" y="357" width="1" height="7" fill="#ff0000"/>
<rect x="926" y="360" width="3" height="3" fill="#ff0000"/>
<rect x="931" y="319" width="1" height="30" fill="#ff0000"/>
<rect x="930" y="326" width="3" height="10" fill="#ff0000"/>
<rect x="935" y="313" width="1" height="23" fill="#00ff00"/>
<rect x="934" y="326" width="3" height="3" fill="#00ff00"/>
<rect x="939" y="324" width="1" height="26" fill="#00ff00"/>
<rect x="938" y="327" width="3" height="21" fill="#00ff00"/>
<rect x="943" y="333" width="1" height="20" fill="#ff0000"/>
<rect x="942" y="343" width="3" height="5" fill="#ff0000"/>
<rect x="947" y="340" width="1" height="22" fill="#00ff00"/>
<rect x="946" y="342" width="3" height="16" fill="#00ff00"/>
<rect x="951" y="354" width="1" height="6" fill="#ff0000"/>
<rect x="950" y="356" width="3" height="3" fill="#ff0000"/>
<rect x="955" y="352" width="1" height="20" fill="#00ff00"/>
<rect x="954" y="356" width="3" height="13" fill="#00ff00"/>
<rect x="959" y="362" width="1" height="16" fill="#00ff00"/>
<rect x="958" y="367" width="3" height="10" fill="#00ff00"/>
<rect x="963" y="373" width="1" height="25" fill="#00ff00"/>
<rect x="962" y="376" width="3" height="14" fill="#00ff00"/>
<rect x="967" y="366" width="1" height="26" fill="#ff0000"/>
<rect x="966" y="373" width="3" height="17" fill="#ff0000"/>
<rect x="971" y="362" width="1" height="22" fill="#ff0000"/>
<rect x="970" y="371" width="3" height="2" fill="#ff0000"/>
<rect x="975" y="368" width="1" height="6" fill="#00ff00"/>
<rect x="974" y="371" width="3" height="2" fill="#00ff00"/>
<rect x="979" y="342" width="1" height="34" fill="#ff0000"/>
<rect x="978" y="351" width="3" height="24" fill="#ff0000"/>
<rect x="983" y="339" width="1" height="21" fill="#ff0000"/>
<rect x="982" y="350" width="3" height="2" fill="#ff0000"/>
<rect x="987" y="330" width="1" height="23" fill="#ff0000"/>
<rect x="986" y="335" width="3" height="15" fill="#ff0000"/>
<rect x="991" y="331" width="1" height="23" fill="#00ff00"/>
<rect x="990" y="335" width="3" height="5" fill="#00ff00"/>
<rect x="995" y="340" width="1" height="28" fill="#00ff00"/>
<rect x="994" y="341" width="3" height="15" fill="#00ff00"/>
<rect x="999" y="354" width="1" height="6" fill="#00ff00"/>
<rect x="998" y="355" width="3" height="3" fill="#00ff00"/>
<rect x="1003" y="351" width="1" height="12" fill="#00ff00"/>
<rect x="1002" y="355" width="3" height="3" fill="#00ff00"/>
<rect x="1007" y="356" width="1" height="12" fill="#00ff00"/>
<rect x="1006" y="357" width="3" height="9" fill="#00ff00"/>
<rect x="1011" y="308" width="1" height="82" fill="#00ff00"/>
<rect x="1010" y="365" width="3" height="22" fill="#00ff00"/>
<rect x="1015" y="376" width="1" height="37" fill="#00ff00"/>
<rect x="1014" y="387" width="3" height="21" fill="#00ff00"/>
<rect x="1019" y="396" width="1" height="27" fill="#00ff00"/>
<rect x="1018" y="407" width="3" height="11" fill="#00ff00"/>
<rect x="1023" y="418" width="1" height="5" fill="#00ff00"/>
<rect x="1022" y="418" width="3" height="4" fill="#00ff00"/>
<rect x="1027" y="389" width="1" height="57" fill="#ff0000"/>
<rect x="1026" y="396" width="3" height="27" fill="#ff0000"/>
<rect x="1031" y="383" width="1" height="40" fill="#00ff00"/>
<rect x="1030" y="397" width="3" height="14" fill="#00ff00"/>
<rect x="1035" y="397" width="1" height="28" fill="#ff0000"/>
<rect x="1034" y="401" width="3" height="10" fill="#ff0000"/>
<rect x="1039" y="392" width="1" height="21" fill="#00ff00"/>
<rect x="1038" y="401" width="3" height="11" fill="#00ff00"/>
<rect x="1043" y="397" width="1" height="16" fill="#ff0000"/>
<rect x="1042" y="407" width="3" height="5" fill="#ff0000"/>
<rect x="1047" y="405" width="1" height="9" fill="#00ff00"/>
<rect x="1046" y="407" width="3" height="6" fill="#00ff00"/>
<rect x="1051" y="417" width="1" height="17" fill="#00ff00"/>
<rect x="1050" y="419" width="3" height="11" fill="#00ff00"/>
<rect x="1055" y="426" width="1" height="21" fill="#00ff00"/>
<rect x="1054" y="429" width="3" height="13" fill="#00ff00"/>
<rect x="1059" y="433" width="1" height="21" fill="#ff0000"/>
<rect x="1058" y="440" width="3" height="2" fill="#ff0000"/>
<rect x="1063" y="419" width="1" height="24" fill="#ff0000"/>
<rect x="1062" y="427" width="3" height="14" fill="#ff0000"/>
<rect x="1067" y="424" width="1" height="17" fill="#00ff00"/>
<rect x="1066" y="426" width="3" height="14" fill="#00ff00"/>
<rect x="1071" y="437" width="1" height="7" fill="#00ff00"/>
<rect x="1070" y="438" width="3" height="4" fill="#00ff00"/>
<rect x="1075" y="421" width="1" height="25" fill="#ff0000"/>
<rect x="1074" y="422" width="3" height="17" fill="#ff0000"/>
<rect x="1079" y="415" width="1" height="16" fill="#ff0000"/>
<rect x="1078" y="421" width="3" height="2" fill="#ff0000"/>
<rect x="1083" y="420" width="1" height="15" fill="#00ff00"/>
<rect x="1082" y="421" width="3" height="9" fill="#00ff00"/>
<rect x="1087" y="428" width="1" height="13" fill="#00ff00"/>
<rect x="1086" y="428" width="3" height="7" fill="#00ff00"/>
<rect x="1091" y="425" width="1" height="11" fill="#ff0000"/>
<rect x="1090" y="431" width="3" height="4" fill="#ff0000"/>
<rect x="1095" y="429" width="1" height="5" fill="#ff0000"/>
<rect x="1094" y="430" width="3" height="3" fill="#ff0000"/>
<rect x="1099" y="421" width="1" height="14" fill="#ff0000"/>
<rect x="1098" y="425" width="3" height="5" fill="#ff0000"/>
<rect x="1103" y="422" width="1" height="21" fill="#00ff00"/>
<rect x="1102" y="424" width="3" height="14" fill="#00ff00"/>
<rect x="1107" y="436" width="1" height="13" fill="#00ff00"/>
<rect x="1106" y="438" width="3" height="4" fill="#00ff00"/>
<rect x="1111" y="441" width="1" height="18" fill="#00ff00"/>
<rect x="1110" y="442" width="3" height="12" fill="#00ff00"/>
<rect x="1115" y="448" width="1" height="19" fill="#00ff00"/>
<rect x="1114" y="452" width="3" height="14" fill="#00ff00"/>
<rect x="1119" y="462" width="1" height="8" fill="#00ff00"/>
<rect x="1118" y="463" width="3" height="5" fill="#00ff00"/>
<rect x="1123" y="452" width="1" height="16" fill="#ff0000"/>
<rect x="1122" y="462" width="3" height="4" fill="#ff0000"/>
<rect x="1127" y="458" width="1" height="12" fill="#00ff00"/>
<rect x="1126" y="462" width="3" height="1" fill="#00ff00"/>
<rect x="1131" y="458" width="1" height="18" fill="#ff0000"/>
<rect x="1130" y="459" width="3" height="3" fill="#ff0000"/>
<rect x="1135" y="446" width="1" height="14" fill="#ff0000"/>
<rect x="1134" y="447" width="3" height="12" fill="#ff0000"/>
<rect x="1139" y="446" width="1" height="15" fill="#00ff00"/>
<rect x="1138" y="447" width="3" height="4" fill="#00ff00"/>
<rect x="1143" y="450" width="1" height="3" fill="#00ff00"/>
<rect x="1142" y="450" width="3" height="3" fill="#00ff00"/>
<rect x="1147" y="451" width="1" height="13" fill="#ff0000"/>
<rect x="1146" y="454" width="3" height="2" fill="#ff0000"/>
<rect x="1151" y="446" width="1" height="13" fill="#00ff00"/>
<rect x="1150" y="456" width="3" height="2" fill="#00ff00"/>
<rect x="1155" y="456" width="1" height="15" fill="#00ff00"/>
<rect x="1154" y="457" width="3" height="11" fill="#00ff00"/>
<rect x="1159" y="461" width="1" height="13" fill="#ff0000"/>
<rect x="1158" y="464" width="3" height="5" fill="#ff0000"/>
<rect x="1163" y="456" width="1" height="12" fill="#ff0000"/>
<rect x="1162" y="463" width="3" height="2" fill="#ff0000"/>
<rect x="1167" y="458" width="1" height="7" fill="#ff0000"/>
<rect x="1166" y="459" width="3" height="4" fill="#ff0000"/>
<rect x="1171" y="441" width="1" height="19" fill="#ff0000"/>
<rect x="1170" y="451" width="3" height="8" fill="#ff0000"/>
<rect x="1175" y="444" width="1" height="10" fill="#ff0000"/>
<rect x="1174" y="448" width="3" height="5" fill="#ff0000"/>
<rect x="1179" y="445" width="1" height="17" fill="#00ff00"/>
<rect x="1178" y="447" width="3" height="10" fill="#00ff00"/>
<rect x="1183" y="451" width="1" height="15" fill="#00ff00"/>
<rect x="1182" y="456" width="3" height="9" fill="#00ff00"/>
<rect x="1187" y="461" width="1" height="4" fill="#ff0000"/>
<rect x="1186" y="464" width="3" height="1" fill="#ff0000"/>
<rect x="1191" y="452" width="1" height="14" fill="#ff0000"/>
<rect x="1190" y="456" width="3" height="8" fill="#ff0000"/>
<rect x="1195" y="452" width="1" height="14" fill="#00ff00"/>
<rect x="1194" y="453" width="3" height="5" fill="#00ff00"/>
<rect x="1199" y="459" width="1" height="15" fill="#00ff00"/>
<rect x="1198" y="460" width="3" height="12" fill="#00ff00"/>
<rect x="1203" y="463" width="1" height="18" fill="#00ff00"/>
<rect x="1202" y="471" width="3" height="5" fill="#00ff00"/>
<rect x="1207" y="471" width="1" height="7" fill="#ff0000"/>
<rect x="1206" y="474" width="3" height="2" fill="#ff0000"/>
<rect x="1210" y="472" width="2" height="1" fill="#000000"/>
<rect x="1215" y="476" width="1" height="35" fill="#00ff00"/>
<rect x="1214" y="478" width="3" height="26" fill="#00ff00"/>
<rect x="1219" y="494" width="1" height="34" fill="#00ff00"/>
<rect x="1218" y="503" width="3" height="8" fill="#00ff00"/>
<rect x="1223" y="499" width="1" height="21" fill="#ff0000"/>
<rect x="1222" y="502" width="3" height="8" fill="#ff0000"/>
<rect x="1227" y="490" width="1" height="23" fill="#ff0000"/>
<rect x="1226" y="491" width="3" height="12" fill="#ff0000"/>
<rect x="1231" y="487" width="1" height="16" fill="#00ff00"/>
<rect x="1230" y="491" width="3" height="10" fill="#00ff00"/>
<rect x="1235" y="488" width="1" height="14" fill="#ff0000"/>
<rect x="1234" y="493" width="3" height="7" fill="#ff0000"/>
<rect x="1239" y="479" width="1" height="15" fill="#ff0000"/>
<rect x="1238" y="487" width="3" height="3" fill="#ff0000"/>
<rect x="1243" y="486" width="1" height="18" fill="#00ff00"/>
<rect x="1242" y="486" width="3" height="13" fill="#00ff00"/>
<rect x="1247" y="493" width="1" height="18" fill="#ff0000"/>
<rect x="1246" y="495" width="3" height="4" fill="#ff0000"/>
<rect x="1251" y="487" width="1" height="13" fill="#ff0000"/>
<rect x="1250" y="489" width="3" height="7" fill="#ff0000"/>
<rect x="1255" y="482" width="1" height="16" fill="#ff0000"/>
<rect x="1254" y="484" width="3" height="8" fill="#ff0000"/>
<rect x="1259" y="482" width="1" height="6" fill="#ff0000"/>
<rect x="1258" y="483" width="3" height="2" fill="#ff0000"/>
<rect x="1263" y="469" width="1" height="16" fill="#ff0000"/>
<rect x="1262" y="476" width="3" height="6" fill="#ff0000"/>
<rect x="1267" y="474" width="1" height="8" fill="#00ff00"/>
<rect x="1266" y="475" width="3" height="6" fill="#00ff00"/>
</g>
<polyline points="3.5,191.3 7.5,194.0 11.5,196.9 15.5,199.8 19.5,202.4 23.5,204.3 27.5,206.2 31.5,207.4 35.5,208.8 39.5,210.0 43.5,210.3 47.5,210.7 51.5,211.4 55.5,211.2 59.5,210.9 63.5,210.7 67.5,210.0 71.5,209.8 75.5,210.0 79.5,209.9 83.5,209.2 87.5,208.2 91.5,207.4 95.5,206.8 99.5,205.8 103.5,204.3 107.5,202.4 111.5,200.4 115.5,198.7 119.5,196.4 123.5,194.4 127.5,191.0 131.5,187.6 135.5,184.1 139.5,181.0 143.5,178.7 147.5,176.3 151.5,174.9 155.5,173.8 159.5,172.8 163.5,173.4 167.5,174.1 171.5,174.9 175.5,176.2 179.5,177.6 183.5,178.9 187.5,180.3 191.5,180.8 195.5,181.0 199.5,179.7 203.5,179.4 207.5,179.0 211.5,178.8 215.5,177.5 219.5,175.4 223.5,172.1 227.5,169.3 231.5,166.5 235.5,163.6 239.5,162.0 243.5,159.4 247.5,158.6 251.5,157.1 255.5,156.1 259.5,154.2 263.5,153.0 267.5,151.3 271.5,149.7 275.5,147.1 279.5,144.7 283.5,141.7 287.5,139.4 291.5,136.3 295.5,134.0 299.5,131.7 303.5,129.4 307.5,127.3 311.5,125.6 315.5,123.3 319.5,122.5 323.5,121.5 327.5,120.5 331.5,118.8 335.5,117.4 339.5,117.0 343.5,118.3 347.5,119.0 351.5,119.8 355.5,120.5 359.5,120.5 363.5,121.6 367.5,121.9 371.5,121.3 375.5,120.3 379.5,120.1 383.5,119.4 387.5,119.1 391.5,118.9 395.5,119.5 399.5,119.7 403.5,119.6 407.5,118.7 411.5,117.9 415.5,116.6 419.5,114.8 423.5,113.1 427.5,111.8 431.5,110.5 435.5,109.9 439.5,109.0 443.5,107.5 447.5,106.2 451.5,104.9 455.5,104.0 459.5,102.2 463.5,100.7 467.5,99.3 471.5,98.1 475.5,97.3 479.5,96.7 483.5,95.9 487.5,95.0 491.5,96.4 495.5,97.7 499.5,99.1 503.5,99.9 507.5,101.5 511.5,102.1 515.5,102.3 519.5,102.6 523.5,103.2 527.5,103.4 531.5,104.0 535.5,104.7 539.5,105.9 543.5,107.0 547.5,108.3 551.5,109.4 555.5,110.0 559.5,110.9 563.5,112.1 567.5,113.3 571.5,114.7 575.5,116.3 579.5,118.8 583.5,120.6 587.5,122.5 591.5,124.3 595.5,126.6 599.5,128.6 603.5,130.9 607.5,133.3 611.5,134.6 615.5,135.8 619.5,137.1 623.5,138.4 627.5,139.7 631.5,141.3 635.5,143.0 639.5,144.9 643.5,146.8 647.5,149.0 651.5,150.5 655.5,152.3 659.5,153.2 663.5,154.4 667.5,155.5 671.5,156.5 675.5,158.0 679.5,159.4 683.5,161.6 687.5,163.5 691.5,165.5 695.5,167.3 699.5,169.9 703.5,172.3 707.5,174.2 711.5,176.1 715.5,177.2 719.5,178.7 723.5,180.1 727.5,181.1 731.5,182.4 735.5,183.8 739.5,185.1 743.5,187.1 747.5,188.6 751.5,190.2 755.5,191.6 759.5,192.9 763.5,194.5 767.5,195.9 771.5,198.3 775.5,200.6 779.5,203.9 783.5,207.0 787.5,210.2 791.5,213.6 795.5,217.0 799.5,220.3 803.5,223.0 807.5,226.1 811.5,229.1 815.5,231.6 819.5,233.6 823.5,236.0 827.5,238.7 831.5,241.5 835.5,244.6 839.5,247.9 843.5,251.4 847.5,255.1 851.5,258.5 855.5,261.9 859.5,264.4 863.5,267.0 867.5,268.9 871.5,270.3 875.5,272.0 879.5,273.9 883.5,275.8 887.5,277.5 891.5,279.5 895.5,282.3 899.5,284.3 903.5,286.5 907.5,289.1 911.5,291.0 915.5,293.1 919.5,295.2 923.5,298.5 927.5,301.4 931.5,303.2 935.5,305.5 939.5,308.0 943.5,310.3 947.5,313.2 951.5,316.0 955.5,318.6 959.5,321.0 963.5,323.3 967.5,325.3 971.5,327.3 975.5,329.6 979.5,331.6 983.5,333.1 987.5,334.9 991.5,337.2 995.5,340.1 999.5,342.9 1003.5,345.3 1007.5,348.2 1011.5,351.1 1015.5,353.8 1019.5,357.2 1023.5,360.6 1027.5,362.4 1031.5,365.0 1035.5,367.2 1039.5,370.0 1043.5,371.5 1047.5,373.3 1051.5,376.8 1055.5,380.5 1059.5,383.6 1063.5,386.4 1067.5,389.1 1071.5,392.0 1075.5,393.8 1079.5,395.2 1083.5,396.6 1087.5,398.7 1091.5,400.7 1095.5,402.6 1099.5,405.0 1103.5,408.0 1107.5,411.5 1111.5,415.3 1115.5,419.0 1119.5,422.7 1123.5,426.2 1127.5,429.4 1131.5,431.8 1135.5,433.1 1139.5,434.2 1143.5,435.2 1147.5,437.1 1151.5,438.7 1155.5,441.0 1159.5,442.7 1163.5,444.5 1167.5,446.1 1171.5,446.8 1175.5,446.9 1179.5,447.5 1183.5,448.8 1187.5,449.6 1191.5,450.1 1195.5,451.3 1199.5,453.0 1203.5,454.5 1207.5,455.8 1211.5,457.2 1215.5,459.7 1219.5,462.5 1223.5,464.7 1227.5,466.3 1231.5,467.9 1235.5,468.8 1239.5,469.4 1243.5,470.6 1247.5,471.7 1251.5,472.7 1255.5,473.9 1259.5,474.9 1263.5,475.7 1267.5,476.6" fill="none" stroke="#0000cd" stroke-width="1" shape-rendering="crispEdges"/>
<polyline points="3.5,212.0 7.5,216.4 11.5,221.4 15.5,226.0 19.5,230.4 23.5,232.7 27.5,234.4 31.5,234.3 35.5,234.1 39.5,232.9 43.5,229.2 47.5,225.9 51.5,223.1 55.5,218.2 59.5,214.0 63.5,208.8 67.5,202.2 71.5,196.9 75.5,192.6 79.5,189.6 83.5,185.4 87.5,182.4 91.5,179.8 95.5,178.5 99.5,179.1 103.5,178.6 107.5,177.2 111.5,177.4 115.5,178.4 119.5,178.1 123.5,178.5 127.5,176.1 131.5,173.3 135.5,170.8 139.5,170.0 143.5,169.5 147.5,167.8 151.5,166.0 155.5,165.4 159.5,165.3 163.5,166.9 167.5,169.3 171.5,172.0 175.5,174.8 179.5,178.0 183.5,182.9 187.5,186.7 191.5,189.7 195.5,192.7 199.5,191.8 203.5,192.0 207.5,191.0 211.5,190.7 215.5,188.7 219.5,183.5 223.5,174.4 227.5,165.2 231.5,156.8 235.5,148.4 239.5,141.8 243.5,133.8 247.5,128.6 251.5,122.2 255.5,120.2 259.5,116.2 263.5,113.8 267.5,108.8 271.5,106.5 275.5,104.9 279.5,106.5 283.5,107.7 287.5,111.1 291.5,113.4 295.5,114.8 299.5,118.6 303.5,120.4 307.5,122.6 311.5,124.4 315.5,126.5 319.5,126.5 323.5,128.0 327.5,128.4 331.5,130.0 335.5,130.3 339.5,130.5 343.5,129.3 347.5,128.2 351.5,126.5 355.5,124.4 359.5,122.7 363.5,121.7 367.5,120.6 371.5,117.9 375.5,115.5 379.5,113.2 383.5,111.5 387.5,109.4 391.5,109.7 395.5,110.2 399.5,109.5 403.5,108.9 407.5,108.7 411.5,108.0 415.5,106.4 419.5,104.1 423.5,101.5 427.5,102.2 431.5,103.4 435.5,104.6 439.5,104.2 443.5,103.3 447.5,101.2 451.5,98.6 455.5,96.7 459.5,93.2 463.5,90.6 467.5,88.3 471.5,86.9 475.5,86.7 479.5,87.6 483.5,87.7 487.5,87.5 491.5,88.9 495.5,91.3 499.5,95.2 503.5,98.0 507.5,102.1 511.5,105.5 515.5,110.4 519.5,113.6 523.5,117.1 527.5,120.1 531.5,122.4 535.5,123.7 539.5,125.5 543.5,127.1 547.5,127.7 551.5,128.6 555.5,127.9 559.5,127.7 563.5,126.1 567.5,125.3 571.5,125.2 575.5,126.0 579.5,126.7 583.5,127.4 587.5,128.0 591.5,128.7 595.5,131.2 599.5,133.9 603.5,136.1 607.5,138.6 611.5,141.6 615.5,144.6 619.5,148.5 623.5,151.8 627.5,155.8 631.5,159.3 635.5,162.3 639.5,165.8 643.5,169.2 647.5,173.0 651.5,173.5 655.5,174.3 659.5,173.3 663.5,172.4 667.5,172.5 671.5,173.0 675.5,172.8 679.5,172.7 683.5,172.9 687.5,172.8 691.5,173.4 695.5,173.9 699.5,176.2 703.5,177.4 707.5,178.8 711.5,179.8 715.5,182.7 719.5,185.9 723.5,189.0 727.5,191.3 731.5,193.9 735.5,196.9 739.5,199.0 743.5,202.4 747.5,205.3 751.5,208.3 755.5,208.9 759.5,210.0 763.5,212.7 767.5,215.4 771.5,218.8 775.5,221.3 779.5,224.3 783.5,228.0 787.5,232.0 791.5,236.9 795.5,241.1 799.5,243.8 803.5,246.7 807.5,249.8 811.5,253.6 815.5,256.6 819.5,259.9 823.5,263.3 827.5,265.3 831.5,267.5 835.5,269.9 839.5,273.4 843.5,277.4 847.5,280.3 851.5,283.0 855.5,286.0 859.5,287.7 863.5,290.0 867.5,290.7 871.5,291.4 875.5,291.2 879.5,291.3 883.5,292.3 887.5,292.7 891.5,293.5 895.5,295.1 899.5,294.8 903.5,295.2 907.5,297.5 911.5,299.3 915.5,302.6 919.5,304.3 923.5,310.1 927.5,316.5 931.5,320.4 935.5,324.3 939.5,328.8 943.5,333.5 947.5,337.5 951.5,339.6 955.5,343.4 959.5,347.3 963.5,350.8 967.5,353.7 971.5,356.3 975.5,359.5 979.5,358.7 983.5,357.9 987.5,358.6 991.5,359.4 995.5,360.0 999.5,361.0 1003.5,361.0 1007.5,361.8 1011.5,363.1 1015.5,365.3 1019.5,367.3 1023.5,370.9 1027.5,372.7 1031.5,375.3 1035.5,378.9 1039.5,383.4 1043.5,388.5 1047.5,393.7 1051.5,399.0 1055.5,405.1 1059.5,410.9 1063.5,415.3 1067.5,419.0 1071.5,421.5 1075.5,421.7 1079.5,421.6 1083.5,424.1 1087.5,425.8 1091.5,427.9 1095.5,429.2 1099.5,430.5 1103.5,432.2 1107.5,433.1 1111.5,434.0 1115.5,435.8 1119.5,438.8 1123.5,440.4 1127.5,441.9 1131.5,444.6 1135.5,446.4 1139.5,448.0 1143.5,449.2 1147.5,450.8 1151.5,452.9 1155.5,455.9 1159.5,457.8 1163.5,459.2 1167.5,459.6 1171.5,458.5 1175.5,457.1 1179.5,456.7 1183.5,456.8 1187.5,457.2 1191.5,457.8 1195.5,458.3 1199.5,459.7 1203.5,461.2 1207.5,462.3 1211.5,462.7 1215.5,465.6 1219.5,469.0 1223.5,472.1 1227.5,475.0 1231.5,478.8 1235.5,481.3 1239.5,482.9 1243.5,485.4 1247.5,488.2 1251.5,490.4 1255.5,491.3 1259.5,491.8 1263.5,491.9 1267.5,492.5" fill="none" stroke="#ff0000" stroke-width="1" shape-rendering="crispEdges"/>
<polyline points="3.5,234.0 7.5,237.2 11.5,241.0 15.5,244.6 19.5,246.8 23.5,246.6 27.5,242.0 31.5,233.0 35.5,225.0 39.5,217.2 43.5,207.5 47.5,200.3 51.5,197.6 55.5,189.3 59.5,181.1 63.5,180.2 67.5,174.7 71.5,171.5 75.5,175.1 79.5,178.3 83.5,176.5 87.5,177.4 91.5,177.2 95.5,177.5 99.5,177.9 103.5,181.2 107.5,183.0 111.5,182.5 115.5,180.9 119.5,177.4 123.5,174.4 127.5,168.6 131.5,163.6 135.5,157.0 139.5,154.0 143.5,152.3 147.5,154.0 151.5,157.2 155.5,162.9 159.5,168.0 163.5,175.5 167.5,186.7 171.5,197.6 175.5,203.6 179.5,210.0 183.5,213.4 187.5,212.0 191.5,206.5 195.5,204.2 199.5,191.0 203.5,179.4 207.5,169.5 211.5,165.6 215.5,156.7 219.5,152.0 223.5,137.4 227.5,125.3 231.5,108.8 235.5,97.2 239.5,96.9 243.5,98.3 247.5,104.0 251.5,107.2 255.5,112.2 259.5,107.5 263.5,113.7 267.5,110.3 271.5,112.7 275.5,109.0 279.5,110.5 283.5,108.1 287.5,115.1 291.5,116.7 295.5,124.7 299.5,132.3 303.5,139.7 307.5,139.6 311.5,142.8 315.5,140.2 319.5,135.7 323.5,131.5 327.5,128.7 331.5,124.7 335.5,121.1 339.5,119.1 343.5,118.5 347.5,116.4 351.5,114.8 355.5,115.8 359.5,117.8 363.5,118.3 367.5,121.3 371.5,116.1 375.5,110.8 379.5,105.0 383.5,100.3 387.5,93.4 391.5,98.2 395.5,104.4 399.5,108.0 403.5,109.0 407.5,112.8 411.5,111.0 415.5,107.0 419.5,103.2 423.5,100.7 427.5,97.9 431.5,98.0 435.5,100.0 439.5,100.6 443.5,98.4 447.5,95.4 451.5,91.1 455.5,85.9 459.5,78.3 463.5,77.3 467.5,75.0 471.5,74.0 475.5,75.4 479.5,84.9 483.5,89.8 487.5,95.6 491.5,105.8 495.5,113.4 499.5,119.6 503.5,124.4 507.5,132.1 511.5,132.4 515.5,131.8 519.5,128.9 523.5,128.4 527.5,124.2 531.5,122.6 535.5,122.0 539.5,123.1 543.5,123.7 547.5,127.3 551.5,130.6 555.5,131.6 559.5,130.5 563.5,129.3 567.5,125.5 571.5,122.6 575.5,123.4 579.5,125.8 583.5,127.8 587.5,130.1 591.5,131.6 595.5,137.7 599.5,143.8 603.5,151.9 607.5,160.5 611.5,167.7 615.5,168.2 619.5,170.2 623.5,169.4 627.5,170.6 631.5,172.9 635.5,175.3 639.5,176.2 643.5,178.9 647.5,179.8 651.5,177.6 655.5,177.4 659.5,172.8 663.5,169.4 667.5,166.3 671.5,166.7 675.5,166.0 679.5,167.7 683.5,172.1 687.5,173.9 691.5,176.3 695.5,179.1 699.5,188.7 703.5,192.3 707.5,194.3 711.5,195.5 715.5,197.4 719.5,196.4 723.5,198.7 727.5,201.7 731.5,205.4 735.5,207.5 739.5,208.8 743.5,211.4 747.5,215.6 751.5,219.6 755.5,222.2 759.5,223.2 763.5,223.3 767.5,223.7 771.5,226.6 775.5,231.3 779.5,238.6 783.5,244.4 787.5,251.8 791.5,258.3 795.5,264.1 799.5,266.0 803.5,268.0 807.5,269.4 811.5,269.1 815.5,266.8 819.5,268.5 823.5,270.1 827.5,270.0 831.5,270.0 835.5,275.6 839.5,282.1 843.5,291.4 847.5,300.2 851.5,307.7 855.5,311.1 859.5,308.1 863.5,304.7 867.5,298.1 871.5,290.3 875.5,283.3 879.5,280.1 883.5,276.4 887.5,275.6 891.5,281.6 895.5,292.9 899.5,301.3 903.5,308.5 907.5,321.1 911.5,327.4 915.5,329.1 919.5,331.4 923.5,339.7 927.5,343.5 931.5,342.3 935.5,341.1 939.5,345.0 943.5,341.0 947.5,340.6 951.5,346.5 955.5,354.5 959.5,360.3 963.5,369.7 967.5,372.7 971.5,375.8 975.5,376.6 979.5,371.4 983.5,363.5 987.5,355.9 991.5,349.8 995.5,346.3 999.5,347.7 1003.5,349.2 1007.5,355.4 1011.5,364.8 1015.5,375.2 1019.5,387.4 1023.5,400.3 1027.5,406.3 1031.5,410.9 1035.5,409.6 1039.5,408.3 1043.5,405.3 1047.5,408.8 1051.5,412.6 1055.5,420.8 1059.5,426.4 1063.5,430.4 1067.5,435.7 1071.5,438.1 1075.5,434.0 1079.5,430.3 1083.5,430.8 1087.5,429.8 1091.5,427.7 1095.5,429.3 1099.5,430.1 1103.5,431.7 1107.5,433.3 1111.5,437.8 1115.5,444.9 1119.5,453.6 1123.5,458.4 1127.5,462.6 1131.5,463.6 1135.5,460.0 1139.5,456.6 1143.5,454.7 1147.5,452.8 1151.5,452.6 1155.5,456.7 1159.5,459.2 1163.5,461.2 1167.5,462.3 1171.5,460.7 1175.5,456.8 1179.5,455.4 1183.5,455.8 1187.5,456.8 1191.5,457.9 1195.5,460.0 1199.5,463.0 1203.5,465.2 1207.5,467.2 1211.5,470.5 1215.5,479.6 1219.5,487.5 1223.5,492.7 1227.5,496.1 1231.5,501.8 1235.5,499.6 1239.5,494.7 1243.5,494.1 1247.5,494.9 1251.5,492.5 1255.5,490.7 1259.5,490.0 1263.5,485.3 1267.5,482.5" fill="none" stroke="#ffa500" stroke-width="1" shape-rendering="crispEdges"/>
<rect x="3" y="110" width="1594" height="2" fill="#ff0000"/>
<rect x="1597" y="105" width="39" height="11" fill="#ff0000"/>
<text x="1600.5" y="114" font-size="10" fill="#fff" stroke="#fff" stroke-width="0.15" text-anchor="start" textLength="33.5" lengthAdjust="spacingAndGlyphs" >7.10011</text>
<rect x="3" y="170" width="1594" height="2" fill="#ff0000"/>
<rect x="1597" y="165" width="39" height="11" fill="#ff0000"/>
<text x="1600.5" y="174" font-size="10" fill="#fff" stroke="#fff" stroke-width="0.15" text-anchor="start" textLength="33.5" lengthAdjust="spacingAndGlyphs" >7.00029</text>
<rect x="3" y="237" width="1594" height="2" fill="#ff0000"/>
<rect x="1597" y="232" width="39" height="11" fill="#ff0000"/>
<text x="1600.5" y="241" font-size="10" fill="#fff" stroke="#fff" stroke-width="0.15" text-anchor="start" textLength="33.5" lengthAdjust="spacingAndGlyphs" >6.88897</text>
<rect x="3" y="314" width="1594" height="2" fill="#ff0000"/>
<rect x="1597" y="309" width="39" height="11" fill="#ff0000"/>
<text x="1600.5" y="318" font-size="10" fill="#fff" stroke="#fff" stroke-width="0.15" text-anchor="start" textLength="33.5" lengthAdjust="spacingAndGlyphs" >6.76157</text>
<rect x="3" y="395" width="1594" height="2" fill="#00ff00"/>
<rect x="1597" y="390" width="39" height="11" fill="#00ff00"/>
<text x="1600.5" y="399" font-size="10" fill="#fff" stroke="#fff" stroke-width="0.15" text-anchor="start" textLength="33.5" lengthAdjust="spacingAndGlyphs" >6.62646</text>
<rect x="3" y="454" width="1594" height="2" fill="#0000ff"/>
<rect x="1597" y="449" width="39" height="11" fill="#0000ff"/>
<text x="1600.5" y="458" font-size="10" fill="#fff" stroke="#fff" stroke-width="0.15" text-anchor="start" textLength="33.5" lengthAdjust="spacingAndGlyphs" >6.52865</text>
<rect x="1597" y="475" width="39" height="11" fill="#000"/>
<text x="1600.5" y="484" font-size="10" fill="#fff" stroke="#fff" stroke-width="0.15" text-anchor="start" textLength="33.5" lengthAdjust="spacingAndGlyphs" >6.48758</text>
<text x="7" y="554" font-size="10" fill="#000" stroke="#000" stroke-width="0.15" text-anchor="start" textLength="68" lengthAdjust="spacingAndGlyphs" >RSI(14) 48.4127</text>
<line x1="4" y1="570.5" x2="1595" y2="570.5" stroke="#c0c0c0" stroke-width="1" stroke-dasharray="3,3" shape-rendering="crispEdges"/>
<line x1="4" y1="606.5" x2="1595" y2="606.5" stroke="#c0c0c0" stroke-width="1" stroke-dasharray="3,3" shape-rendering="crispEdges"/>
<rect x="1596" y="543" width="2" height="1" fill="#000"/>
<rect x="1596" y="633" width="2" height="1" fill="#000"/>
<text x="1599" y="552" font-size="10" fill="#000" stroke="#000" stroke-width="0.15" text-anchor="start" textLength="15" lengthAdjust="spacingAndGlyphs" >100</text>
<text x="1598" y="574" font-size="10" fill="#000" stroke="#000" stroke-width="0.15" text-anchor="start" textLength="10" lengthAdjust="spacingAndGlyphs" >70</text>
<text x="1598" y="610" font-size="10" fill="#000" stroke="#000" stroke-width="0.15" text-anchor="start" textLength="10" lengthAdjust="spacingAndGlyphs" >30</text>
<text x="1599" y="631" font-size="10" fill="#000" stroke="#000" stroke-width="0.15" text-anchor="start" textLength="5" lengthAdjust="spacingAndGlyphs" >0</text>
<polyline points="3.5,610.9 7.5,616.5 11.5,617.8 15.5,617.0 19.5,613.7 23.5,596.0 27.5,594.2 31.5,585.5 35.5,587.9 39.5,586.5 43.5,574.8 47.5,579.5 51.5,582.5 55.5,575.3 59.5,574.9 63.5,577.4 67.5,573.7 71.5,581.6 75.5,585.9 79.5,584.6 83.5,578.6 87.5,578.6 91.5,583.7 95.5,588.7 99.5,587.4 103.5,585.5 107.5,582.9 111.5,583.2 115.5,586.6 119.5,582.0 123.5,581.0 127.5,574.7 131.5,576.7 135.5,576.8 139.5,579.4 143.5,581.2 147.5,579.4 151.5,585.4 155.5,590.8 159.5,591.7 163.5,597.3 167.5,601.3 171.5,604.2 175.5,598.4 179.5,599.6 183.5,599.8 187.5,594.5 191.5,590.3 195.5,592.0 199.5,576.3 203.5,579.5 207.5,578.9 211.5,586.1 215.5,580.7 219.5,574.8 223.5,568.6 227.5,571.8 231.5,571.6 235.5,572.7 239.5,581.3 243.5,575.6 247.5,583.4 251.5,581.0 255.5,583.9 259.5,580.2 263.5,585.2 267.5,582.2 271.5,585.7 275.5,582.3 279.5,583.5 283.5,584.1 287.5,590.7 291.5,588.4 295.5,591.1 299.5,591.8 303.5,592.1 307.5,590.2 311.5,591.6 315.5,587.2 319.5,585.8 323.5,586.6 327.5,586.5 331.5,586.3 335.5,582.2 339.5,583.0 343.5,586.6 347.5,584.1 351.5,584.9 355.5,584.6 359.5,587.4 363.5,588.4 367.5,590.3 371.5,577.3 375.5,576.9 379.5,578.8 383.5,582.3 387.5,580.4 391.5,588.0 395.5,590.1 399.5,586.9 403.5,585.1 407.5,588.2 411.5,585.1 415.5,583.3 419.5,580.7 423.5,581.1 427.5,584.4 431.5,586.9 435.5,588.8 439.5,582.8 443.5,578.5 447.5,579.9 451.5,579.6 455.5,579.5 459.5,571.3 463.5,581.0 467.5,579.9 471.5,582.3 475.5,587.1 479.5,592.3 483.5,590.9 487.5,591.4 491.5,600.0 495.5,599.2 499.5,601.3 503.5,596.5 507.5,600.9 511.5,596.8 515.5,594.3 519.5,592.5 523.5,593.1 527.5,592.0 531.5,593.2 535.5,592.7 539.5,594.6 543.5,593.9 547.5,599.0 551.5,599.5 555.5,592.3 559.5,589.6 563.5,588.5 567.5,588.7 571.5,591.4 575.5,594.5 579.5,595.5 583.5,592.9 587.5,594.1 591.5,594.3 595.5,606.5 599.5,607.1 603.5,608.8 607.5,610.2 611.5,605.4 615.5,602.5 619.5,605.8 623.5,600.3 627.5,605.2 631.5,604.6 635.5,602.2 639.5,603.0 643.5,603.2 647.5,605.6 651.5,594.5 655.5,597.0 659.5,587.2 663.5,590.0 667.5,593.3 671.5,593.8 675.5,594.0 679.5,589.9 683.5,598.2 687.5,595.4 691.5,597.1 695.5,597.9 699.5,606.1 703.5,600.7 707.5,594.6 711.5,594.8 715.5,596.7 719.5,600.5 723.5,602.4 727.5,597.6 731.5,598.8 735.5,597.7 739.5,600.2 743.5,604.3 747.5,603.2 751.5,604.1 755.5,598.9 759.5,598.3 763.5,601.6 767.5,601.6 771.5,606.4 775.5,606.6 779.5,609.9 783.5,610.2 787.5,612.2 791.5,614.4 795.5,612.9 799.5,606.9 803.5,607.5 807.5,609.0 811.5,609.5 815.5,600.5 819.5,604.7 823.5,605.2 827.5,602.8 831.5,603.5 835.5,608.7 839.5,612.7 843.5,615.6 847.5,611.8 851.5,608.6 855.5,605.9 859.5,597.1 863.5,601.3 867.5,591.7 871.5,587.5 875.5,587.5 879.5,589.0 883.5,592.9 887.5,590.0 891.5,597.4 895.5,603.8 899.5,599.5 903.5,600.6 907.5,604.9 911.5,601.2 915.5,602.0 919.5,599.0 923.5,606.2 927.5,605.1 931.5,593.4 935.5,594.2 939.5,598.3 943.5,596.7 947.5,599.9 951.5,599.2 955.5,602.0 959.5,603.6 963.5,605.9 967.5,599.6 971.5,599.0 975.5,599.4 979.5,591.7 983.5,591.3 987.5,586.6 991.5,588.4 995.5,592.9 999.5,593.5 1003.5,593.5 1007.5,596.0 1011.5,601.6 1015.5,605.8 1019.5,607.7 1023.5,608.4 1027.5,597.9 1031.5,601.1 1035.5,597.7 1039.5,600.1 1043.5,598.3 1047.5,599.8 1051.5,603.3 1055.5,605.7 1059.5,604.8 1063.5,599.6 1067.5,602.4 1071.5,602.9 1075.5,595.1 1079.5,594.8 1083.5,597.2 1087.5,598.5 1091.5,596.9 1095.5,596.5 1099.5,594.2 1103.5,598.4 1107.5,599.7 1111.5,602.8 1115.5,605.7 1119.5,606.4 1123.5,602.9 1127.5,603.3 1131.5,600.9 1135.5,594.8 1139.5,596.3 1143.5,596.8 1147.5,597.1 1151.5,599.0 1155.5,602.4 1159.5,599.9 1163.5,599.2 1167.5,596.8 1171.5,591.6 1175.5,589.9 1179.5,594.6 1183.5,598.0 1187.5,597.4 1191.5,592.4 1195.5,593.6 1199.5,599.7 1203.5,601.2 1207.5,599.9 1211.5,598.8 1215.5,609.4 1219.5,611.1 1223.5,605.1 1227.5,598.9 1231.5,601.9 1235.5,597.9 1239.5,594.7 1243.5,598.9 1247.5,596.9 1251.5,593.9 1255.5,591.5 1259.5,591.0 1263.5,587.5 1267.5,590.0" fill="none" stroke="#1e90ff" stroke-width="1" shape-rendering="crispEdges"/>
<text x="7" y="649" font-size="10" fill="#000" stroke="#000" stroke-width="0.15" text-anchor="start" textLength="154" lengthAdjust="spacingAndGlyphs" >MACD(12,26,9) -0.011010 -0.018262</text>
<rect x="1596" y="638" width="2" height="1" fill="#000"/>
<rect x="1596" y="728" width="2" height="1" fill="#000"/>
<rect x="1596" y="683" width="2" height="1" fill="#000"/>
<text x="1599" y="647" font-size="10" fill="#000" stroke="#000" stroke-width="0.15" text-anchor="start" textLength="39" lengthAdjust="spacingAndGlyphs" >0.042275</text>
<text x="1599" y="687" font-size="10" fill="#000" stroke="#000" stroke-width="0.15" text-anchor="start" textLength="18" lengthAdjust="spacingAndGlyphs" >0.00</text>
<text x="1599" y="726" font-size="10" fill="#000" stroke="#000" stroke-width="0.15" text-anchor="start" textLength="36" lengthAdjust="spacingAndGlyphs" >-0.04148</text>
<g shape-rendering="crispEdges">
<rect x="3" y="683" width="1" height="32" fill="#c0c0c0"/>
<rect x="7" y="683" width="1" height="34" fill="#c0c0c0"/>
<rect x="11" y="683" width="1" height="36" fill="#c0c0c0"/>
<rect x="15" y="683" width="1" height="37" fill="#c0c0c0"/>
<rect x="19" y="683" width="1" height="37" fill="#c0c0c0"/>
<rect x="23" y="683" width="1" height="33" fill="#c0c0c0"/>
<rect x="27" y="683" width="1" height="30" fill="#c0c0c0"/>
<rect x="31" y="683" width="1" height="24" fill="#c0c0c0"/>
<rect x="35" y="683" width="1" height="20" fill="#c0c0c0"/>
<rect x="39" y="683" width="1" height="17" fill="#c0c0c0"/>
<rect x="43" y="683" width="1" height="9" fill="#c0c0c0"/>
<rect x="47" y="683" width="1" height="5" fill="#c0c0c0"/>
<rect x="51" y="683" width="1" height="2" fill="#c0c0c0"/>
<rect x="55" y="678" width="1" height="6" fill="#c0c0c0"/>
<rect x="59" y="674" width="1" height="10" fill="#c0c0c0"/>
<rect x="63" y="671" width="1" height="13" fill="#c0c0c0"/>
<rect x="67" y="667" width="1" height="17" fill="#c0c0c0"/>
<rect x="71" y="667" width="1" height="17" fill="#c0c0c0"/>
<rect x="75" y="668" width="1" height="16" fill="#c0c0c0"/>
<rect x="79" y="669" width="1" height="15" fill="#c0c0c0"/>
<rect x="83" y="667" width="1" height="17" fill="#c0c0c0"/>
<rect x="87" y="665" width="1" height="19" fill="#c0c0c0"/>
<rect x="91" y="666" width="1" height="18" fill="#c0c0c0"/>
<rect x="95" y="669" width="1" height="15" fill="#c0c0c0"/>
<rect x="99" y="671" width="1" height="13" fill="#c0c0c0"/>
<rect x="103" y="671" width="1" height="13" fill="#c0c0c0"/>
<rect x="107" y="671" width="1" height="13" fill="#c0c0c0"/>
<rect x="111" y="671" width="1" height="13" fill="#c0c0c0"/>
<rect x="115" y="672" width="1" height="12" fill="#c0c0c0"/>
<rect x="119" y="671" width="1" height="13" fill="#c0c0c0"/>
<rect x="123" y="671" width="1" height="13" fill="#c0c0c0"/>
<rect x="127" y="667" width="1" height="17" fill="#c0c0c0"/>
<rect x="131" y="665" width="1" height="19" fill="#c0c0c0"/>
<rect x="135" y="664" width="1" height="20" fill="#c0c0c0"/>
<rect x="139" y="663" width="1" height="21" fill="#c0c0c0"/>
<rect x="143" y="664" width="1" height="20" fill="#c0c0c0"/>
<rect x="147" y="664" width="1" height="20" fill="#c0c0c0"/>
<rect x="151" y="666" width="1" height="18" fill="#c0c0c0"/>
<rect x="155" y="670" width="1" height="14" fill="#c0c0c0"/>
<rect x="159" y="673" width="1" height="11" fill="#c0c0c0"/>
<rect x="163" y="678" width="1" height="6" fill="#c0c0c0"/>
<rect x="167" y="683" width="1" height="1" fill="#c0c0c0"/>
<rect x="171" y="683" width="1" height="7" fill="#c0c0c0"/>
<rect x="175" y="683" width="1" height="10" fill="#c0c0c0"/>
<rect x="179" y="683" width="1" height="13" fill="#c0c0c0"/>
<rect x="183" y="683" width="1" height="15" fill="#c0c0c0"/>
<rect x="187" y="683" width="1" height="15" fill="#c0c0c0"/>
<rect x="191" y="683" width="1" height="14" fill="#c0c0c0"/>
<rect x="195" y="683" width="1" height="13" fill="#c0c0c0"/>
<rect x="199" y="683" width="1" height="5" fill="#c0c0c0"/>
<rect x="203" y="682" width="1" height="2" fill="#c0c0c0"/>
<rect x="207" y="678" width="1" height="6" fill="#c0c0c0"/>
<rect x="211" y="678" width="1" height="6" fill="#c0c0c0"/>
<rect x="215" y="674" width="1" height="10" fill="#c0c0c0"/>
<rect x="219" y="668" width="1" height="16" fill="#c0c0c0"/>
<rect x="223" y="657" width="1" height="27" fill="#c0c0c0"/>
<rect x="227" y="650" width="1" height="34" fill="#c0c0c0"/>
<rect x="231" y="645" width="1" height="39" fill="#c0c0c0"/>
<rect x="235" y="642" width="1" height="42" fill="#c0c0c0"/>
<rect x="239" y="644" width="1" height="40" fill="#c0c0c0"/>
<rect x="243" y="642" width="1" height="42" fill="#c0c0c0"/>
<rect x="247" y="644" width="1" height="40" fill="#c0c0c0"/>
<rect x="251" y="645" width="1" height="39" fill="#c0c0c0"/>
<rect x="255" y="648" width="1" height="36" fill="#c0c0c0"/>
<rect x="259" y="648" width="1" height="36" fill="#c0c0c0"/>
<rect x="263" y="651" width="1" height="33" fill="#c0c0c0"/>
<rect x="267" y="651" width="1" height="33" fill="#c0c0c0"/>
<rect x="271" y="654" width="1" height="30" fill="#c0c0c0"/>
<rect x="275" y="654" width="1" height="30" fill="#c0c0c0"/>
<rect x="279" y="655" width="1" height="29" fill="#c0c0c0"/>
<rect x="283" y="657" width="1" height="27" fill="#c0c0c0"/>
<rect x="287" y="663" width="1" height="21" fill="#c0c0c0"/>
<rect x="291" y="666" width="1" height="18" fill="#c0c0c0"/>
<rect x="295" y="670" width="1" height="14" fill="#c0c0c0"/>
<rect x="299" y="674" width="1" height="10" fill="#c0c0c0"/>
<rect x="303" y="678" width="1" height="6" fill="#c0c0c0"/>
<rect x="307" y="680" width="1" height="4" fill="#c0c0c0"/>
<rect x="311" y="682" width="1" height="2" fill="#c0c0c0"/>
<rect x="315" y="682" width="1" height="2" fill="#c0c0c0"/>
<rect x="319" y="680" width="1" height="4" fill="#c0c0c0"/>
<rect x="323" y="680" width="1" height="4" fill="#c0c0c0"/>
<rect x="327" y="679" width="1" height="5" fill="#c0c0c0"/>
<rect x="331" y="679" width="1" height="5" fill="#c0c0c0"/>
<rect x="335" y="677" width="1" height="7" fill="#c0c0c0"/>
<rect x="339" y="675" width="1" height="9" fill="#c0c0c0"/>
<rect x="343" y="676" width="1" height="8" fill="#c0c0c0"/>
<rect x="347" y="675" width="1" height="9" fill="#c0c0c0"/>
<rect x="351" y="675" width="1" height="9" fill="#c0c0c0"/>
<rect x="355" y="675" width="1" height="9" fill="#c0c0c0"/>
<rect x="359" y="676" width="1" height="8" fill="#c0c0c0"/>
<rect x="363" y="677" width="1" height="7" fill="#c0c0c0"/>
<rect x="367" y="678" width="1" height="6" fill="#c0c0c0"/>
<rect x="371" y="674" width="1" height="10" fill="#c0c0c0"/>
<rect x="375" y="671" width="1" height="13" fill="#c0c0c0"/>
<rect x="379" y="669" width="1" height="15" fill="#c0c0c0"/>
<rect x="383" y="669" width="1" height="15" fill="#c0c0c0"/>
<rect x="387" y="668" width="1" height="16" fill="#c0c0c0"/>
<rect x="391" y="670" width="1" height="14" fill="#c0c0c0"/>
<rect x="395" y="673" width="1" height="11" fill="#c0c0c0"/>
<rect x="399" y="674" width="1" height="10" fill="#c0c0c0"/>
<rect x="403" y="674" width="1" height="10" fill="#c0c0c0"/>
<rect x="407" y="675" width="1" height="9" fill="#c0c0c0"/>
<rect x="411" y="675" width="1" height="9" fill="#c0c0c0"/>
<rect x="415" y="674" width="1" height="10" fill="#c0c0c0"/>
<rect x="419" y="673" width="1" height="11" fill="#c0c0c0"/>
<rect x="423" y="672" width="1" height="12" fill="#c0c0c0"/>
<rect x="427" y="672" width="1" height="12" fill="#c0c0c0"/>
<rect x="431" y="673" width="1" height="11" fill="#c0c0c0"/>
<rect x="435" y="675" width="1" height="9" fill="#c0c0c0"/>
<rect x="439" y="674" width="1" height="10" fill="#c0c0c0"/>
<rect x="443" y="672" width="1" height="12" fill="#c0c0c0"/>
<rect x="447" y="671" width="1" height="13" fill="#c0c0c0"/>
<rect x="451" y="670" width="1" height="14" fill="#c0c0c0"/>
<rect x="455" y="669" width="1" height="15" fill="#c0c0c0"/>
<rect x="459" y="665" width="1" height="19" fill="#c0c0c0"/>
<rect x="463" y="665" width="1" height="19" fill="#c0c0c0"/>
<rect x="467" y="664" width="1" height="20" fill="#c0c0c0"/>
<rect x="471" y="665" width="1" height="19" fill="#c0c0c0"/>
<rect x="475" y="667" width="1" height="17" fill="#c0c0c0"/>
<rect x="479" y="671" width="1" height="13" fill="#c0c0c0"/>
<rect x="483" y="674" width="1" height="10" fill="#c0c0c0"/>
<rect x="487" y="677" width="1" height="7" fill="#c0c0c0"/>
<rect x="491" y="682" width="1" height="2" fill="#c0c0c0"/>
<rect x="495" y="683" width="1" height="5" fill="#c0c0c0"/>
<rect x="499" y="683" width="1" height="9" fill="#c0c0c0"/>
<rect x="503" y="683" width="1" height="11" fill="#c0c0c0"/>
<rect x="507" y="683" width="1" height="15" fill="#c0c0c0"/>
<rect x="511" y="683" width="1" height="16" fill="#c0c0c0"/>
<rect x="515" y="683" width="1" height="16" fill="#c0c0c0"/>
<rect x="519" y="683" width="1" height="15" fill="#c0c0c0"/>
<rect x="523" y="683" width="1" height="15" fill="#c0c0c0"/>
<rect x="527" y="683" width="1" height="14" fill="#c0c0c0"/>
<rect x="531" y="683" width="1" height="13" fill="#c0c0c0"/>
<rect x="535" y="683" width="1" height="13" fill="#c0c0c0"/>
<rect x="539" y="683" width="1" height="13" fill="#c0c0c0"/>
<rect x="543" y="683" width="1" height="13" fill="#c0c0c0"/>
<rect x="547" y="683" width="1" height="14" fill="#c0c0c0"/>
<rect x="551" y="683" width="1" height="15" fill="#c0c0c0"/>
<rect x="555" y="683" width="1" height="14" fill="#c0c0c0"/>
<rect x="559" y="683" width="1" height="12" fill="#c0c0c0"/>
<rect x="563" y="683" width="1" height="11" fill="#c0c0c0"/>
<rect x="567" y="683" width="1" height="9" fill="#c0c0c0"/>
<rect x="571" y="683" width="1" height="9" fill="#c0c0c0"/>
<rect x="575" y="683" width="1" height="9" fill="#c0c0c0"/>
<rect x="579" y="683" width="1" height="10" fill="#c0c0c0"/>
<rect x="583" y="683" width="1" height="9" fill="#c0c0c0"/>
<rect x="587" y="683" width="1" height="9" fill="#c0c0c0"/>
<rect x="591" y="683" width="1" height="9" fill="#c0c0c0"/>
<rect x="595" y="683" width="1" height="13" fill="#c0c0c0"/>
<rect x="599" y="683" width="1" height="17" fill="#c0c0c0"/>
<rect x="603" y="683" width="1" height="20" fill="#c0c0c0"/>
<rect x="607" y="683" width="1" height="23" fill="#c0c0c0"/>
<rect x="611" y="683" width="1" height="24" fill="#c0c0c0"/>
<rect x="615" y="683" width="1" height="24" fill="#c0c0c0"/>
<rect x="619" y="683" width="1" height="26" fill="#c0c0c0"/>
<rect x="623" y="683" width="1" height="25" fill="#c0c0c0"/>
<rect x="627" y="683" width="1" height="27" fill="#c0c0c0"/>
<rect x="631" y="683" width="1" height="27" fill="#c0c0c0"/>
<rect x="635" y="683" width="1" height="27" fill="#c0c0c0"/>
<rect x="639" y="683" width="1" height="27" fill="#c0c0c0"/>
<rect x="643" y="683" width="1" height="27" fill="#c0c0c0"/>
<rect x="647" y="683" width="1" height="27" fill="#c0c0c0"/>
<rect x="651" y="683" width="1" height="25" fill="#c0c0c0"/>
<rect x="655" y="683" width="1" height="23" fill="#c0c0c0"/>
<rect x="659" y="683" width="1" height="19" fill="#c0c0c0"/>
<rect x="663" y="683" width="1" height="17" fill="#c0c0c0"/>
<rect x="667" y="683" width="1" height="16" fill="#c0c0c0"/>
<rect x="671" y="683" width="1" height="15" fill="#c0c0c0"/>
<rect x="675" y="683" width="1" height="14" fill="#c0c0c0"/>
<rect x="679" y="683" width="1" height="13" fill="#c0c0c0"/>
<rect x="683" y="683" width="1" height="14" fill="#c0c0c0"/>
<rect x="687" y="683" width="1" height="14" fill="#c0c0c0"/>
<rect x="691" y="683" width="1" height="15" fill="#c0c0c0"/>
<rect x="695" y="683" width="1" height="15" fill="#c0c0c0"/>
<rect x="699" y="683" width="1" height="19" fill="#c0c0c0"/>
<rect x="703" y="683" width="1" height="21" fill="#c0c0c0"/>
<rect x="707" y="683" width="1" height="20" fill="#c0c0c0"/>
<rect x="711" y="683" width="1" height="19" fill="#c0c0c0"/>
<rect x="715" y="683" width="1" height="19" fill="#c0c0c0"/>
<rect x="719" y="683" width="1" height="21" fill="#c0c0c0"/>
<rect x="723" y="683" width="1" height="23" fill="#c0c0c0"/>
<rect x="727" y="683" width="1" height="22" fill="#c0c0c0"/>
<rect x="731" y="683" width="1" height="23" fill="#c0c0c0"/>
<rect x="735" y="683" width="1" height="22" fill="#c0c0c0"/>
<rect x="739" y="683" width="1" height="23" fill="#c0c0c0"/>
<rect x="743" y="683" width="1" height="25" fill="#c0c0c0"/>
<rect x="747" y="683" width="1" height="26" fill="#c0c0c0"/>
<rect x="751" y="683" width="1" height="27" fill="#c0c0c0"/>
<rect x="755" y="683" width="1" height="26" fill="#c0c0c0"/>
<rect x="759" y="683" width="1" height="25" fill="#c0c0c0"/>
<rect x="763" y="683" width="1" height="25" fill="#c0c0c0"/>
<rect x="767" y="683" width="1" height="25" fill="#c0c0c0"/>
<rect x="771" y="683" width="1" height="27" fill="#c0c0c0"/>
<rect x="775" y="683" width="1" height="28" fill="#c0c0c0"/>
<rect x="779" y="683" width="1" height="30" fill="#c0c0c0"/>
<rect x="783" y="683" width="1" height="32" fill="#c0c0c0"/>
<rect x="787" y="683" width="1" height="34" fill="#c0c0c0"/>
<rect x="791" y="683" width="1" height="37" fill="#c0c0c0"/>
<rect x="795" y="683" width="1" height="38" fill="#c0c0c0"/>
<rect x="799" y="683" width="1" height="38" fill="#c0c0c0"/>
<rect x="803" y="683" width="1" height="37" fill="#c0c0c0"/>
<rect x="807" y="683" width="1" height="37" fill="#c0c0c0"/>
<rect x="811" y="683" width="1" height="37" fill="#c0c0c0"/>
<rect x="815" y="683" width="1" height="34" fill="#c0c0c0"/>
<rect x="819" y="683" width="1" height="34" fill="#c0c0c0"/>
<rect x="823" y="683" width="1" height="33" fill="#c0c0c0"/>
<rect x="827" y="683" width="1" height="32" fill="#c0c0c0"/>
<rect x="831" y="683" width="1" height="31" fill="#c0c0c0"/>
<rect x="835" y="683" width="1" height="32" fill="#c0c0c0"/>
<rect x="839" y="683" width="1" height="35" fill="#c0c0c0"/>
<rect x="843" y="683" width="1" height="39" fill="#c0c0c0"/>
<rect x="847" y="683" width="1" height="41" fill="#c0c0c0"/>
<rect x="851" y="683" width="1" height="41" fill="#c0c0c0"/>
<rect x="855" y="683" width="1" height="40" fill="#c0c0c0"/>
<rect x="859" y="683" width="1" height="37" fill="#c0c0c0"/>
<rect x="863" y="683" width="1" height="36" fill="#c0c0c0"/>
<rect x="867" y="683" width="1" height="32" fill="#c0c0c0"/>
<rect x="871" y="683" width="1" height="26" fill="#c0c0c0"/>
<rect x="875" y="683" width="1" height="22" fill="#c0c0c0"/>
<rect x="879" y="683" width="1" height="19" fill="#c0c0c0"/>
<rect x="883" y="683" width="1" height="18" fill="#c0c0c0"/>
<rect x="887" y="683" width="1" height="15" fill="#c0c0c0"/>
<rect x="891" y="683" width="1" height="17" fill="#c0c0c0"/>
<rect x="895" y="683" width="1" height="21" fill="#c0c0c0"/>
<rect x="899" y="683" width="1" height="23" fill="#c0c0c0"/>
<rect x="903" y="683" width="1" height="25" fill="#c0c0c0"/>
<rect x="907" y="683" width="1" height="29" fill="#c0c0c0"/>
<rect x="911" y="683" width="1" height="31" fill="#c0c0c0"/>
<rect x="915" y="683" width="1" height="32" fill="#c0c0c0"/>
<rect x="919" y="683" width="1" height="32" fill="#c0c0c0"/>
<rect x="923" y="683" width="1" height="36" fill="#c0c0c0"/>
<rect x="927" y="683" width="1" height="39" fill="#c0c0c0"/>
<rect x="931" y="683" width="1" height="35" fill="#c0c0c0"/>
<rect x="935" y="683" width="1" height="33" fill="#c0c0c0"/>
<rect x="939" y="683" width="1" height="33" fill="#c0c0c0"/>
<rect x="943" y="683" width="1" height="33" fill="#c0c0c0"/>
<rect x="947" y="683" width="1" height="34" fill="#c0c0c0"/>
<rect x="951" y="683" width="1" height="34" fill="#c0c0c0"/>
<rect x="955" y="683" width="1" height="36" fill="#c0c0c0"/>
<rect x="959" y="683" width="1" height="38" fill="#c0c0c0"/>
<rect x="963" y="683" width="1" height="41" fill="#c0c0c0"/>
<rect x="967" y="683" width="1" height="40" fill="#c0c0c0"/>
<rect x="971" y="683" width="1" height="39" fill="#c0c0c0"/>
<rect x="975" y="683" width="1" height="38" fill="#c0c0c0"/>
<rect x="979" y="683" width="1" height="34" fill="#c0c0c0"/>
<rect x="983" y="683" width="1" height="30" fill="#c0c0c0"/>
<rect x="987" y="683" width="1" height="24" fill="#c0c0c0"/>
<rect x="991" y="683" width="1" height="20" fill="#c0c0c0"/>
<rect x="995" y="683" width="1" height="19" fill="#c0c0c0"/>
<rect x="999" y="683" width="1" height="19" fill="#c0c0c0"/>
<rect x="1003" y="683" width="1" height="18" fill="#c0c0c0"/>
<rect x="1007" y="683" width="1" height="18" fill="#c0c0c0"/>
<rect x="1011" y="683" width="1" height="21" fill="#c0c0c0"/>
<rect x="1015" y="683" width="1" height="26" fill="#c0c0c0"/>
<rect x="1019" y="683" width="1" height="32" fill="#c0c0c0"/>
<rect x="1023" y="683" width="1" height="36" fill="#c0c0c0"/>
<rect x="1027" y="683" width="1" height="35" fill="#c0c0c0"/>
<rect x="1031" y="683" width="1" height="36" fill="#c0c0c0"/>
<rect x="1035" y="683" width="1" height="35" fill="#c0c0c0"/>
<rect x="1039" y="683" width="1" height="36" fill="#c0c0c0"/>
<rect x="1043" y="683" width="1" height="35" fill="#c0c0c0"/>
<rect x="1047" y="683" width="1" height="35" fill="#c0c0c0"/>
<rect x="1051" y="683" width="1" height="37" fill="#c0c0c0"/>
<rect x="1055" y="683" width="1" height="40" fill="#c0c0c0"/>
<rect x="1059" y="683" width="1" height="41" fill="#c0c0c0"/>
<rect x="1063" y="683" width="1" height="40" fill="#c0c0c0"/>
<rect x="1067" y="683" width="1" height="40" fill="#c0c0c0"/>
<rect x="1071" y="683" width="1" height="41" fill="#c0c0c0"/>
<rect x="1075" y="683" width="1" height="37" fill="#c0c0c0"/>
<rect x="1079" y="683" width="1" height="35" fill="#c0c0c0"/>
<rect x="1083" y="683" width="1" height="33" fill="#c0c0c0"/>
<rect x="1087" y="683" width="1" height="32" fill="#c0c0c0"/>
<rect x="1091" y="683" width="1" height="31" fill="#c0c0c0"/>
<rect x="1095" y="683" width="1" height="29" fill="#c0c0c0"/>
<rect x="1099" y="683" width="1" height="27" fill="#c0c0c0"/>
<rect x="1103" y="683" width="1" height="26" fill="#c0c0c0"/>
<rect x="1107" y="683" width="1" height="27" fill="#c0c0c0"/>
<rect x="1111" y="683" width="1" height="28" fill="#c0c0c0"/>
<rect x="1115" y="683" width="1" height="30" fill="#c0c0c0"/>
<rect x="1119" y="683" width="1" height="32" fill="#c0c0c0"/>
<rect x="1123" y="683" width="1" height="33" fill="#c0c0c0"/>
<rect x="1127" y="683" width="1" height="33" fill="#c0c0c0"/>
<rect x="1131" y="683" width="1" height="32" fill="#c0c0c0"/>
<rect x="1135" y="683" width="1" height="29" fill="#c0c0c0"/>
<rect x="1139" y="683" width="1" height="27" fill="#c0c0c0"/>
<rect x="1143" y="683" width="1" height="26" fill="#c0c0c0"/>
<rect x="1147" y="683" width="1" height="24" fill="#c0c0c0"/>
<rect x="1151" y="683" width="1" height="24" fill="#c0c0c0"/>
<rect x="1155" y="683" width="1" height="24" fill="#c0c0c0"/>
<rect x="1159" y="683" width="1" height="24" fill="#c0c0c0"/>
<rect x="1163" y="683" width="1" height="23" fill="#c0c0c0"/>
<rect x="1167" y="683" width="1" height="22" fill="#c0c0c0"/>
<rect x="1171" y="683" width="1" height="19" fill="#c0c0c0"/>
<rect x="1175" y="683" width="1" height="17" fill="#c0c0c0"/>
<rect x="1179" y="683" width="1" height="16" fill="#c0c0c0"/>
<rect x="1183" y="683" width="1" height="16" fill="#c0c0c0"/>
<rect x="1187" y="683" width="1" height="16" fill="#c0c0c0"/>
<rect x="1191" y="683" width="1" height="14" fill="#c0c0c0"/>
<rect x="1195" y="683" width="1" height="14" fill="#c0c0c0"/>
<rect x="1199" y="683" width="1" height="15" fill="#c0c0c0"/>
<rect x="1203" y="683" width="1" height="16" fill="#c0c0c0"/>
<rect x="1207" y="683" width="1" height="16" fill="#c0c0c0"/>
<rect x="1211" y="683" width="1" height="16" fill="#c0c0c0"/>
<rect x="1215" y="683" width="1" height="21" fill="#c0c0c0"/>
<rect x="1219" y="683" width="1" height="25" fill="#c0c0c0"/>
<rect x="1223" y="683" width="1" height="27" fill="#c0c0c0"/>
<rect x="1227" y="683" width="1" height="26" fill="#c0c0c0"/>
<rect x="1231" y="683" width="1" height="27" fill="#c0c0c0"/>
<rect x="1235" y="683" width="1" height="26" fill="#c0c0c0"/>
<rect x="1239" y="683" width="1" height="24" fill="#c0c0c0"/>
<rect x="1243" y="683" width="1" height="24" fill="#c0c0c0"/>
<rect x="1247" y="683" width="1" height="23" fill="#c0c0c0"/>
<rect x="1251" y="683" width="1" height="22" fill="#c0c0c0"/>
<rect x="1255" y="683" width="1" height="19" fill="#c0c0c0"/>
<rect x="1259" y="683" width="1" height="17" fill="#c0c0c0"/>
<rect x="1263" y="683" width="1" height="14" fill="#c0c0c0"/>
<rect x="1267" y="683" width="1" height="13" fill="#c0c0c0"/>
</g>
<polyline points="3.5,708.5 7.5,710.4 11.5,712.3 15.5,714.0 19.5,715.4 23.5,716.1 27.5,716.1 31.5,715.3 35.5,713.9 39.5,712.2 43.5,709.4 47.5,705.9 51.5,702.1 55.5,697.6 59.5,693.0 63.5,688.5 67.5,684.2 71.5,680.3 75.5,676.9 79.5,674.4 83.5,672.2 87.5,670.2 91.5,668.8 95.5,668.3 99.5,668.2 103.5,668.7 107.5,669.1 111.5,669.4 115.5,669.8 119.5,670.3 123.5,670.9 127.5,671.0 131.5,670.5 135.5,669.7 139.5,668.9 143.5,668.1 147.5,667.3 151.5,666.7 155.5,666.4 159.5,666.7 163.5,667.9 167.5,669.9 171.5,672.8 175.5,676.0 179.5,679.4 183.5,683.1 187.5,686.6 191.5,689.5 195.5,692.0 199.5,693.0 203.5,692.9 207.5,691.6 211.5,690.0 215.5,687.7 219.5,684.4 223.5,679.9 227.5,674.9 231.5,669.4 235.5,664.4 239.5,660.2 243.5,656.2 247.5,652.5 251.5,649.2 255.5,647.0 259.5,646.0 263.5,646.0 267.5,646.6 271.5,648.0 275.5,649.1 279.5,650.6 283.5,652.0 287.5,653.9 291.5,655.9 295.5,658.4 299.5,661.0 303.5,664.0 307.5,666.9 311.5,670.0 315.5,672.9 319.5,675.5 323.5,677.4 327.5,678.9 331.5,679.9 335.5,680.2 339.5,679.9 343.5,679.4 347.5,678.7 351.5,677.9 355.5,677.3 359.5,676.8 363.5,676.5 367.5,676.5 371.5,676.2 375.5,675.7 379.5,674.9 383.5,674.2 387.5,673.4 391.5,672.9 395.5,672.6 399.5,672.2 403.5,671.7 407.5,671.8 411.5,672.3 415.5,672.9 419.5,673.4 423.5,673.8 427.5,674.1 431.5,674.1 435.5,674.3 439.5,674.3 443.5,674.0 447.5,673.5 451.5,673.0 455.5,672.6 459.5,671.8 463.5,671.0 467.5,670.0 471.5,668.8 475.5,668.1 479.5,668.0 483.5,668.4 487.5,669.1 491.5,670.6 495.5,673.0 499.5,676.0 503.5,679.2 507.5,682.7 511.5,686.2 515.5,689.1 519.5,691.7 523.5,694.0 527.5,695.5 531.5,696.4 535.5,696.8 539.5,697.0 543.5,696.7 547.5,696.5 551.5,696.4 555.5,696.2 559.5,696.0 563.5,695.6 567.5,695.1 571.5,694.6 575.5,694.2 579.5,693.9 583.5,693.3 587.5,692.7 591.5,692.2 595.5,692.3 599.5,693.0 603.5,694.2 607.5,695.8 611.5,697.5 615.5,699.2 619.5,701.0 623.5,702.8 627.5,704.7 631.5,706.2 635.5,707.4 639.5,708.2 643.5,708.6 647.5,708.8 651.5,708.9 655.5,708.6 659.5,707.9 663.5,706.8 667.5,705.6 671.5,704.2 675.5,702.9 679.5,701.3 683.5,699.9 687.5,698.7 691.5,697.8 695.5,697.3 699.5,697.6 703.5,698.2 707.5,698.7 711.5,699.3 715.5,700.0 719.5,700.8 723.5,701.7 727.5,702.5 731.5,703.3 735.5,703.6 739.5,703.8 743.5,704.3 747.5,705.0 751.5,705.9 755.5,706.5 759.5,706.7 763.5,707.0 767.5,707.3 771.5,707.8 775.5,708.4 779.5,709.0 783.5,709.7 787.5,710.5 791.5,711.7 795.5,713.2 799.5,714.6 803.5,715.9 807.5,717.1 811.5,718.0 815.5,718.5 819.5,718.7 823.5,718.7 827.5,718.2 831.5,717.4 835.5,716.8 839.5,716.5 843.5,716.7 847.5,717.2 851.5,717.9 855.5,718.6 859.5,719.0 863.5,719.5 867.5,719.5 871.5,718.9 875.5,717.5 879.5,715.2 883.5,712.6 887.5,709.8 891.5,707.1 895.5,705.4 899.5,704.0 903.5,703.3 907.5,703.6 911.5,704.6 915.5,706.0 919.5,707.6 923.5,709.9 927.5,712.4 931.5,713.9 935.5,715.0 939.5,715.9 943.5,716.3 947.5,716.6 951.5,716.8 955.5,717.2 959.5,717.4 963.5,717.6 967.5,718.1 971.5,718.8 975.5,719.3 979.5,719.4 983.5,719.0 987.5,717.9 991.5,716.2 995.5,714.2 999.5,711.8 1003.5,709.3 1007.5,707.0 1011.5,705.2 1015.5,704.4 1019.5,704.6 1023.5,705.9 1027.5,707.5 1031.5,709.4 1035.5,711.2 1039.5,713.2 1043.5,715.1 1047.5,716.6 1051.5,717.7 1055.5,718.6 1059.5,719.2 1063.5,719.7 1067.5,720.2 1071.5,720.8 1075.5,721.0 1079.5,720.9 1083.5,720.7 1087.5,720.2 1091.5,719.2 1095.5,717.8 1099.5,716.4 1103.5,714.8 1107.5,713.2 1111.5,712.2 1115.5,711.7 1119.5,711.6 1123.5,711.7 1127.5,711.9 1131.5,712.2 1135.5,712.5 1139.5,712.6 1143.5,712.5 1147.5,712.1 1151.5,711.3 1155.5,710.4 1159.5,709.4 1163.5,708.3 1167.5,707.1 1171.5,706.0 1175.5,704.9 1179.5,703.8 1183.5,702.8 1187.5,702.0 1191.5,700.9 1195.5,699.8 1199.5,698.9 1203.5,698.3 1207.5,698.0 1211.5,698.0 1215.5,698.5 1219.5,699.5 1223.5,700.7 1227.5,702.0 1231.5,703.5 1235.5,704.8 1239.5,705.7 1243.5,706.5 1247.5,707.3 1251.5,707.4 1255.5,706.8 1259.5,705.7 1263.5,704.4 1267.5,702.8" fill="none" stroke="#ff0000" stroke-width="1" stroke-dasharray="3,3" shape-rendering="crispEdges"/>
<rect x="3" y="730" width="1" height="3" fill="#000"/>
<text x="2.5" y="742" font-size="10" fill="#000" stroke="#000" stroke-width="0.15" text-anchor="start" textLength="50.199999999999996" lengthAdjust="spacingAndGlyphs" >15 Jan 2020</text>
<rect x="67" y="730" width="1" height="3" fill="#000"/>
<text x="66.5" y="742" font-size="10" fill="#000" stroke="#000" stroke-width="0.15" text-anchor="start" textLength="47.199999999999996" lengthAdjust="spacingAndGlyphs" >3 Feb 2020</text>
<rect x="131" y="730" width="1" height="3" fill="#000"/>
<text x="130.5" y="742" font-size="10" fill="#000" stroke="#000" stroke-width="0.15" text-anchor="start" textLength="52.8" lengthAdjust="spacingAndGlyphs" >21 Feb 2020</text>
<rect x="195" y="730" width="1" height="3" fill="#000"/>
<text x="194.5" y="742" font-size="10" fill="#000" stroke="#000" stroke-width="0.15" text-anchor="start" textLength="52.199999999999996" lengthAdjust="spacingAndGlyphs" >11 Mar 2020</text>
<rect x="259" y="730" width="1" height="3" fill="#000"/>
<text x="258.5" y="742" font-size="10" fill="#000" stroke="#000" stroke-width="0.15" text-anchor="start" textLength="52.199999999999996" lengthAdjust="spacingAndGlyphs" >30 Mar 2020</text>
<rect x="323" y="730" width="1" height="3" fill="#000"/>
<text x="322.5" y="742" font-size="10" fill="#000" stroke="#000" stroke-width="0.15" text-anchor="start" textLength="51.0" lengthAdjust="spacingAndGlyphs" >17 Apr 2020</text>
<rect x="387" y="730" width="1" height="3" fill="#000"/>
<text x="386.5" y="742" font-size="10" fill="#000" stroke="#000" stroke-width="0.15" text-anchor="start" textLength="50.199999999999996" lengthAdjust="spacingAndGlyphs" >6 May 2020</text>
<rect x="451" y="730" width="1" height="3" fill="#000"/>
<text x="450.5" y="742" font-size="10" fill="#000" stroke="#000" stroke-width="0.15" text-anchor="start" textLength="55.3" lengthAdjust="spacingAndGlyphs" >25 May 2020</text>
<rect x="515" y="730" width="1" height="3" fill="#000"/>
<text x="514.5" y="742" font-size="10" fill="#000" stroke="#000" stroke-width="0.15" text-anchor="start" textLength="50.199999999999996" lengthAdjust="spacingAndGlyphs" >12 Jun 2020</text>
<rect x="579" y="730" width="1" height="3" fill="#000"/>
<text x="578.5" y="742" font-size="10" fill="#000" stroke="#000" stroke-width="0.15" text-anchor="start" textLength="41.5" lengthAdjust="spacingAndGlyphs" >1 Jul 2020</text>
<rect x="643" y="730" width="1" height="3" fill="#000"/>
<text x="642.5" y="742" font-size="10" fill="#000" stroke="#000" stroke-width="0.15" text-anchor="start" textLength="47.599999999999994" lengthAdjust="spacingAndGlyphs" >20 Jul 2020</text>
<rect x="707" y="730" width="1" height="3" fill="#000"/>
<text x="706.5" y="742" font-size="10" fill="#000" stroke="#000" stroke-width="0.15" text-anchor="start" textLength="48.199999999999996" lengthAdjust="spacingAndGlyphs" >7 Aug 2020</text>
<rect x="771" y="730" width="1" height="3" fill="#000"/>
<text x="770.5" y="742" font-size="10" fill="#000" stroke="#000" stroke-width="0.15" text-anchor="start" textLength="53.199999999999996" lengthAdjust="spacingAndGlyphs" >26 Aug 2020</text>
<rect x="835" y="730" width="1" height="3" fill="#000"/>
<text x="834.5" y="742" font-size="10" fill="#000" stroke="#000" stroke-width="0.15" text-anchor="start" textLength="51.8" lengthAdjust="spacingAndGlyphs" >14 Sep 2020</text>
<rect x="899" y="730" width="1" height="3" fill="#000"/>
<text x="898.5" y="742" font-size="10" fill="#000" stroke="#000" stroke-width="0.15" text-anchor="start" textLength="45.599999999999994" lengthAdjust="spacingAndGlyphs" >2 Oct 2020</text>
<rect x="963" y="730" width="1" height="3" fill="#000"/>
<text x="962.5" y="742" font-size="10" fill="#000" stroke="#000" stroke-width="0.15" text-anchor="start" textLength="51.599999999999994" lengthAdjust="spacingAndGlyphs" >21 Oct 2020</text>
<rect x="1027" y="730" width="1" height="3" fill="#000"/>
<text x="1026.5" y="742" font-size="10" fill="#000" stroke="#000" stroke-width="0.15" text-anchor="start" textLength="49.199999999999996" lengthAdjust="spacingAndGlyphs" >9 Nov 2020</text>
<rect x="1091" y="730" width="1" height="3" fill="#000"/>
<text x="1090.5" y="742" font-size="10" fill="#000" stroke="#000" stroke-width="0.15" text-anchor="start" textLength="54.199999999999996" lengthAdjust="spacingAndGlyphs" >27 Nov 2020</text>
<rect x="1155" y="730" width="1" height="3" fill="#000"/>
<text x="1154.5" y="742" font-size="10" fill="#000" stroke="#000" stroke-width="0.15" text-anchor="start" textLength="51.8" lengthAdjust="spacingAndGlyphs" >16 Dec 2020</text>
<rect x="1219" y="730" width="1" height="3" fill="#000"/>
<text x="1218.5" y="742" font-size="10" fill="#000" stroke="#000" stroke-width="0.15" text-anchor="start" textLength="44.0" lengthAdjust="spacingAndGlyphs" >5 Jan 2021</text>
<rect x="0" y="750" width="1636" height="1" fill="#e8e8e8"/>
<rect x="0" y="753" width="1636" height="20" fill="#f0f0f0"/>
<rect x="0" y="752" width="1636" height="1" fill="#000"/>
<rect x="417" y="751" width="103" height="19" fill="#ffffff"/>
<rect x="416" y="752" width="1" height="19" fill="#000"/>
<rect x="519" y="752" width="1" height="19" fill="#000"/>
<rect x="416" y="770" width="104" height="1" fill="#000"/>
<rect x="520" y="753" width="1" height="18" fill="#808080"/>
<text x="16" y="767" font-size="12.5" fill="#5a5a5a" text-anchor="start" textLength="80.5" lengthAdjust="spacingAndGlyphs" >EURUSD,Daily</text>
<text x="118" y="767" font-size="12.5" fill="#5a5a5a" text-anchor="start" textLength="79" lengthAdjust="spacingAndGlyphs" >USDCHF,Daily</text>
<text x="219" y="767" font-size="12.5" fill="#5a5a5a" text-anchor="start" textLength="82" lengthAdjust="spacingAndGlyphs" >AUDUSD,Daily</text>
<text x="323" y="767" font-size="12.5" fill="#5a5a5a" text-anchor="start" textLength="81.5" lengthAdjust="spacingAndGlyphs" >USDCAD,Daily</text>
<text x="532" y="767" font-size="12.5" fill="#5a5a5a" text-anchor="start" textLength="80.5" lengthAdjust="spacingAndGlyphs" >EURUSD,Daily</text>
<text x="635.5" y="767" font-size="12.5" fill="#5a5a5a" text-anchor="start" textLength="68.5" lengthAdjust="spacingAndGlyphs" >GBPUSD,H4</text>
<text x="726.5" y="767" font-size="12.5" fill="#5a5a5a" text-anchor="start" textLength="69" lengthAdjust="spacingAndGlyphs" >XAUUSD,H4</text>
<text x="819" y="767" font-size="12.5" fill="#5a5a5a" text-anchor="start" textLength="50" lengthAdjust="spacingAndGlyphs" >HK50,H1</text>
<text x="891" y="767" font-size="12.5" fill="#5a5a5a" text-anchor="start" textLength="56.5" lengthAdjust="spacingAndGlyphs" >UK100,H1</text>
<text x="970.5" y="767" font-size="12.5" fill="#5a5a5a" text-anchor="start" textLength="57" lengthAdjust="spacingAndGlyphs" >UK100,H1</text>
<text x="1051" y="767" font-size="12.5" fill="#5a5a5a" text-anchor="start" textLength="56.5" lengthAdjust="spacingAndGlyphs" >GER30,H1</text>
<text x="1130.5" y="767" font-size="12.5" fill="#5a5a5a" text-anchor="start" textLength="54" lengthAdjust="spacingAndGlyphs" >FRA40,H1</text>
<text x="1207.5" y="767" font-size="12.5" fill="#5a5a5a" text-anchor="start" textLength="76.5" lengthAdjust="spacingAndGlyphs" >USOil,Weekly</text>
<text x="1306" y="767" font-size="12.5" fill="#5a5a5a" text-anchor="start" textLength="63" lengthAdjust="spacingAndGlyphs" >USDJPY,H1</text>
<text x="1390" y="767" font-size="12.5" fill="#5a5a5a" text-anchor="start" textLength="59" lengthAdjust="spacingAndGlyphs" >DJ30,Daily</text>
<text x="1470" y="767" font-size="12.5" fill="#5a5a5a" text-anchor="start" textLength="78.5" lengthAdjust="spacingAndGlyphs" >CHINA300,H1</text>
<text x="1570.5" y="767" font-size="12.5" fill="#5a5a5a" text-anchor="start" textLength="33.5" lengthAdjust="spacingAndGlyphs" >USOil,</text>
<text x="426" y="767" font-size="12.5" fill="#000" text-anchor="start" textLength="83" lengthAdjust="spacingAndGlyphs" >USDCNH,Daily</text>
<rect x="108" y="755" width="1" height="15" fill="#6a6a6a"/>
<rect x="208" y="755" width="1" height="15" fill="#6a6a6a"/>
<rect x="312" y="755" width="1" height="15" fill="#6a6a6a"/>
<rect x="624" y="755" width="1" height="15" fill="#6a6a6a"/>
<rect x="716" y="755" width="1" height="15" fill="#6a6a6a"/>
<rect x="808" y="755" width="1" height="15" fill="#6a6a6a"/>
<rect x="881" y="755" width="1" height="15" fill="#6a6a6a"/>
<rect x="960" y="755" width="1" height="15" fill="#6a6a6a"/>
<rect x="1040" y="755" width="1" height="15" fill="#6a6a6a"/>
<rect x="1120" y="755" width="1" height="15" fill="#6a6a6a"/>
<rect x="1196" y="755" width="1" height="15" fill="#6a6a6a"/>
<rect x="1296" y="755" width="1" height="15" fill="#6a6a6a"/>
<rect x="1380" y="755" width="1" height="15" fill="#6a6a6a"/>
<rect x="1460" y="755" width="1" height="15" fill="#6a6a6a"/>
<rect x="1560" y="755" width="1" height="15" fill="#6a6a6a"/>
<path d="M1615 757.5 L1615 764.5 L1611 761 Z" fill="#a0a0a0"/>
<path d="M1629 757 L1629 765 L1634 761 Z" fill="#000"/></svg></body></html>
